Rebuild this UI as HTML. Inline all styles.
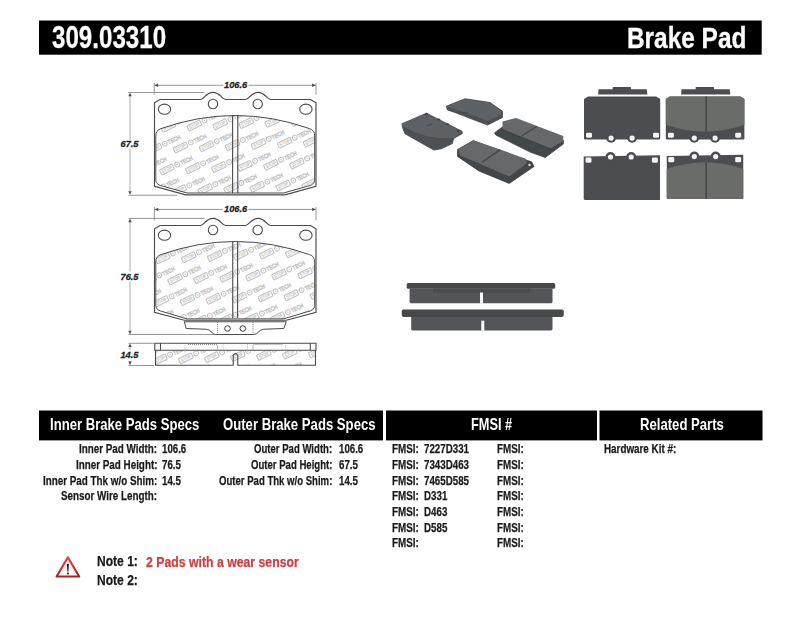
<!DOCTYPE html>
<html><head><meta charset="utf-8"><style>
html,body{margin:0;padding:0;background:#fff;width:800px;height:619px;overflow:hidden;position:relative}
.t{-webkit-text-stroke:0.25px currentColor;position:absolute;font-family:"Liberation Sans",sans-serif;font-weight:bold;white-space:pre;line-height:1;transform-origin:0 0}
.bar{position:absolute;background:#000}
svg{position:absolute;left:0;top:0}
</style></head><body>
<svg width="800" height="619" style="position:absolute;left:0;top:0"><rect x="39" y="20.5" width="722.7" height="34.2" fill="#000"/><rect x="39" y="410.5" width="344" height="29.9" fill="#000"/><rect x="386" y="410.5" width="211" height="29.9" fill="#000"/><rect x="599.5" y="410.5" width="163" height="29.9" fill="#000"/></svg>
<svg width="800" height="619" viewBox="0 0 800 619">
<defs><filter id="soft" x="-5%" y="-5%" width="110%" height="110%"><feGaussianBlur stdDeviation="0.35"/></filter>

<clipPath id="fr1"><path d="M155.8,136 Q155.8,130.2 161,128.6 Q235.25,102.4 309.5,128.6 Q314.7,130.2 314.7,136 L314.7,180.0 C314.7,183.5 311.5,185.5 307.5,186.2 L283.5,193.0 L187,193.0 L163,186.2 C159,185.5 155.8,183.5 155.8,180.0 Z"/></clipPath>
<clipPath id="fr2"><path d="M155.8,262 Q155.8,256.2 161,254.6 Q235.25,228.4 309.5,254.6 Q314.7,256.2 314.7,262 L314.7,305.5 C314.7,309.0 311.5,311.0 307.5,311.7 L283.5,318.9 L187,318.9 L163,311.7 C159,311.0 155.8,309.0 155.8,305.5 Z"/></clipPath>
<clipPath id="fr3"><rect x="155.5" y="350.2" width="160" height="15"/></clipPath>
</defs>
<g stroke="#8a8a8a" stroke-width="0.9" fill="none"><path d="M157.5,85.25 H223 M248.5,85.25 H312.5"/><path d="M154.25,83 V94.5 M316,83 V94.5"/><path d="M128.25,92.5 H204.5 M128.5,195.25 H177"/></g>
<path d="M130,96 V139.5 M130,148.5 V191" stroke="#d2d2d2" stroke-width="1.8"/>
<path d="M154.25,85.25 L158.15,83.55 L158.15,86.95 Z" fill="#4a4a4a"/><path d="M316,85.25 L312.1,83.55 L312.1,86.95 Z" fill="#4a4a4a"/>
<path d="M130,92.75 L128.3,96.35 L131.7,96.35 Z" fill="#4a4a4a"/><path d="M130,194.75 L128.3,191.15 L131.7,191.15 Z" fill="#4a4a4a"/>
<text x="0" y="0" transform="translate(224.0,87.7) scale(1.03,1)" font-family="Liberation Sans" font-weight="bold" font-style="italic" font-size="9.0" fill="#222" stroke="#222" stroke-width="0.25">106.6</text>
<text x="0" y="0" transform="translate(120.5,146.8) scale(1.03,1)" font-family="Liberation Sans" font-weight="bold" font-style="italic" font-size="9.0" fill="#222" stroke="#222" stroke-width="0.25">67.5</text>
<g clip-path="url(#fr1)"><g transform="translate(121.70,198.80) rotate(-26)"><rect x="0.6" y="-5.9" width="14" height="5.6" rx="0.8" fill="none" stroke="#c2c2c2" stroke-width="1.1"/><text x="7.6" y="-1.5" font-family="Liberation Sans" font-weight="bold" font-size="4.8" text-anchor="middle" fill="#c2c2c2" textLength="11" lengthAdjust="spacingAndGlyphs">STOP</text><circle cx="19" cy="-3.1" r="2.4" fill="none" stroke="#c2c2c2" stroke-width="1.05"/><circle cx="19" cy="-3.1" r="0.7" fill="#c2c2c2"/><text x="22.6" y="-0.7" font-family="Liberation Sans" font-size="5.8" fill="none" stroke="#c2c2c2" stroke-width="0.6" textLength="13" lengthAdjust="spacingAndGlyphs">TECH</text></g><g transform="translate(134.00,219.60) rotate(-26)"><rect x="0.6" y="-5.9" width="14" height="5.6" rx="0.8" fill="none" stroke="#c2c2c2" stroke-width="1.1"/><text x="7.6" y="-1.5" font-family="Liberation Sans" font-weight="bold" font-size="4.8" text-anchor="middle" fill="#c2c2c2" textLength="11" lengthAdjust="spacingAndGlyphs">STOP</text><circle cx="19" cy="-3.1" r="2.4" fill="none" stroke="#c2c2c2" stroke-width="1.05"/><circle cx="19" cy="-3.1" r="0.7" fill="#c2c2c2"/><text x="22.6" y="-0.7" font-family="Liberation Sans" font-size="5.8" fill="none" stroke="#c2c2c2" stroke-width="0.6" textLength="13" lengthAdjust="spacingAndGlyphs">TECH</text></g><g transform="translate(123.10,156.00) rotate(-26)"><rect x="0.6" y="-5.9" width="14" height="5.6" rx="0.8" fill="none" stroke="#c2c2c2" stroke-width="1.1"/><text x="7.6" y="-1.5" font-family="Liberation Sans" font-weight="bold" font-size="4.8" text-anchor="middle" fill="#c2c2c2" textLength="11" lengthAdjust="spacingAndGlyphs">STOP</text><circle cx="19" cy="-3.1" r="2.4" fill="none" stroke="#c2c2c2" stroke-width="1.05"/><circle cx="19" cy="-3.1" r="0.7" fill="#c2c2c2"/><text x="22.6" y="-0.7" font-family="Liberation Sans" font-size="5.8" fill="none" stroke="#c2c2c2" stroke-width="0.6" textLength="13" lengthAdjust="spacingAndGlyphs">TECH</text></g><g transform="translate(135.40,176.80) rotate(-26)"><rect x="0.6" y="-5.9" width="14" height="5.6" rx="0.8" fill="none" stroke="#c2c2c2" stroke-width="1.1"/><text x="7.6" y="-1.5" font-family="Liberation Sans" font-weight="bold" font-size="4.8" text-anchor="middle" fill="#c2c2c2" textLength="11" lengthAdjust="spacingAndGlyphs">STOP</text><circle cx="19" cy="-3.1" r="2.4" fill="none" stroke="#c2c2c2" stroke-width="1.05"/><circle cx="19" cy="-3.1" r="0.7" fill="#c2c2c2"/><text x="22.6" y="-0.7" font-family="Liberation Sans" font-size="5.8" fill="none" stroke="#c2c2c2" stroke-width="0.6" textLength="13" lengthAdjust="spacingAndGlyphs">TECH</text></g><g transform="translate(147.70,197.60) rotate(-26)"><rect x="0.6" y="-5.9" width="14" height="5.6" rx="0.8" fill="none" stroke="#c2c2c2" stroke-width="1.1"/><text x="7.6" y="-1.5" font-family="Liberation Sans" font-weight="bold" font-size="4.8" text-anchor="middle" fill="#c2c2c2" textLength="11" lengthAdjust="spacingAndGlyphs">STOP</text><circle cx="19" cy="-3.1" r="2.4" fill="none" stroke="#c2c2c2" stroke-width="1.05"/><circle cx="19" cy="-3.1" r="0.7" fill="#c2c2c2"/><text x="22.6" y="-0.7" font-family="Liberation Sans" font-size="5.8" fill="none" stroke="#c2c2c2" stroke-width="0.6" textLength="13" lengthAdjust="spacingAndGlyphs">TECH</text></g><g transform="translate(160.00,218.40) rotate(-26)"><rect x="0.6" y="-5.9" width="14" height="5.6" rx="0.8" fill="none" stroke="#c2c2c2" stroke-width="1.1"/><text x="7.6" y="-1.5" font-family="Liberation Sans" font-weight="bold" font-size="4.8" text-anchor="middle" fill="#c2c2c2" textLength="11" lengthAdjust="spacingAndGlyphs">STOP</text><circle cx="19" cy="-3.1" r="2.4" fill="none" stroke="#c2c2c2" stroke-width="1.05"/><circle cx="19" cy="-3.1" r="0.7" fill="#c2c2c2"/><text x="22.6" y="-0.7" font-family="Liberation Sans" font-size="5.8" fill="none" stroke="#c2c2c2" stroke-width="0.6" textLength="13" lengthAdjust="spacingAndGlyphs">TECH</text></g><g transform="translate(124.50,113.20) rotate(-26)"><rect x="0.6" y="-5.9" width="14" height="5.6" rx="0.8" fill="none" stroke="#c2c2c2" stroke-width="1.1"/><text x="7.6" y="-1.5" font-family="Liberation Sans" font-weight="bold" font-size="4.8" text-anchor="middle" fill="#c2c2c2" textLength="11" lengthAdjust="spacingAndGlyphs">STOP</text><circle cx="19" cy="-3.1" r="2.4" fill="none" stroke="#c2c2c2" stroke-width="1.05"/><circle cx="19" cy="-3.1" r="0.7" fill="#c2c2c2"/><text x="22.6" y="-0.7" font-family="Liberation Sans" font-size="5.8" fill="none" stroke="#c2c2c2" stroke-width="0.6" textLength="13" lengthAdjust="spacingAndGlyphs">TECH</text></g><g transform="translate(136.80,134.00) rotate(-26)"><rect x="0.6" y="-5.9" width="14" height="5.6" rx="0.8" fill="none" stroke="#c2c2c2" stroke-width="1.1"/><text x="7.6" y="-1.5" font-family="Liberation Sans" font-weight="bold" font-size="4.8" text-anchor="middle" fill="#c2c2c2" textLength="11" lengthAdjust="spacingAndGlyphs">STOP</text><circle cx="19" cy="-3.1" r="2.4" fill="none" stroke="#c2c2c2" stroke-width="1.05"/><circle cx="19" cy="-3.1" r="0.7" fill="#c2c2c2"/><text x="22.6" y="-0.7" font-family="Liberation Sans" font-size="5.8" fill="none" stroke="#c2c2c2" stroke-width="0.6" textLength="13" lengthAdjust="spacingAndGlyphs">TECH</text></g><g transform="translate(149.10,154.80) rotate(-26)"><rect x="0.6" y="-5.9" width="14" height="5.6" rx="0.8" fill="none" stroke="#c2c2c2" stroke-width="1.1"/><text x="7.6" y="-1.5" font-family="Liberation Sans" font-weight="bold" font-size="4.8" text-anchor="middle" fill="#c2c2c2" textLength="11" lengthAdjust="spacingAndGlyphs">STOP</text><circle cx="19" cy="-3.1" r="2.4" fill="none" stroke="#c2c2c2" stroke-width="1.05"/><circle cx="19" cy="-3.1" r="0.7" fill="#c2c2c2"/><text x="22.6" y="-0.7" font-family="Liberation Sans" font-size="5.8" fill="none" stroke="#c2c2c2" stroke-width="0.6" textLength="13" lengthAdjust="spacingAndGlyphs">TECH</text></g><g transform="translate(161.40,175.60) rotate(-26)"><rect x="0.6" y="-5.9" width="14" height="5.6" rx="0.8" fill="none" stroke="#c2c2c2" stroke-width="1.1"/><text x="7.6" y="-1.5" font-family="Liberation Sans" font-weight="bold" font-size="4.8" text-anchor="middle" fill="#c2c2c2" textLength="11" lengthAdjust="spacingAndGlyphs">STOP</text><circle cx="19" cy="-3.1" r="2.4" fill="none" stroke="#c2c2c2" stroke-width="1.05"/><circle cx="19" cy="-3.1" r="0.7" fill="#c2c2c2"/><text x="22.6" y="-0.7" font-family="Liberation Sans" font-size="5.8" fill="none" stroke="#c2c2c2" stroke-width="0.6" textLength="13" lengthAdjust="spacingAndGlyphs">TECH</text></g><g transform="translate(173.70,196.40) rotate(-26)"><rect x="0.6" y="-5.9" width="14" height="5.6" rx="0.8" fill="none" stroke="#c2c2c2" stroke-width="1.1"/><text x="7.6" y="-1.5" font-family="Liberation Sans" font-weight="bold" font-size="4.8" text-anchor="middle" fill="#c2c2c2" textLength="11" lengthAdjust="spacingAndGlyphs">STOP</text><circle cx="19" cy="-3.1" r="2.4" fill="none" stroke="#c2c2c2" stroke-width="1.05"/><circle cx="19" cy="-3.1" r="0.7" fill="#c2c2c2"/><text x="22.6" y="-0.7" font-family="Liberation Sans" font-size="5.8" fill="none" stroke="#c2c2c2" stroke-width="0.6" textLength="13" lengthAdjust="spacingAndGlyphs">TECH</text></g><g transform="translate(186.00,217.20) rotate(-26)"><rect x="0.6" y="-5.9" width="14" height="5.6" rx="0.8" fill="none" stroke="#c2c2c2" stroke-width="1.1"/><text x="7.6" y="-1.5" font-family="Liberation Sans" font-weight="bold" font-size="4.8" text-anchor="middle" fill="#c2c2c2" textLength="11" lengthAdjust="spacingAndGlyphs">STOP</text><circle cx="19" cy="-3.1" r="2.4" fill="none" stroke="#c2c2c2" stroke-width="1.05"/><circle cx="19" cy="-3.1" r="0.7" fill="#c2c2c2"/><text x="22.6" y="-0.7" font-family="Liberation Sans" font-size="5.8" fill="none" stroke="#c2c2c2" stroke-width="0.6" textLength="13" lengthAdjust="spacingAndGlyphs">TECH</text></g><g transform="translate(150.50,112.00) rotate(-26)"><rect x="0.6" y="-5.9" width="14" height="5.6" rx="0.8" fill="none" stroke="#c2c2c2" stroke-width="1.1"/><text x="7.6" y="-1.5" font-family="Liberation Sans" font-weight="bold" font-size="4.8" text-anchor="middle" fill="#c2c2c2" textLength="11" lengthAdjust="spacingAndGlyphs">STOP</text><circle cx="19" cy="-3.1" r="2.4" fill="none" stroke="#c2c2c2" stroke-width="1.05"/><circle cx="19" cy="-3.1" r="0.7" fill="#c2c2c2"/><text x="22.6" y="-0.7" font-family="Liberation Sans" font-size="5.8" fill="none" stroke="#c2c2c2" stroke-width="0.6" textLength="13" lengthAdjust="spacingAndGlyphs">TECH</text></g><g transform="translate(162.80,132.80) rotate(-26)"><rect x="0.6" y="-5.9" width="14" height="5.6" rx="0.8" fill="none" stroke="#c2c2c2" stroke-width="1.1"/><text x="7.6" y="-1.5" font-family="Liberation Sans" font-weight="bold" font-size="4.8" text-anchor="middle" fill="#c2c2c2" textLength="11" lengthAdjust="spacingAndGlyphs">STOP</text><circle cx="19" cy="-3.1" r="2.4" fill="none" stroke="#c2c2c2" stroke-width="1.05"/><circle cx="19" cy="-3.1" r="0.7" fill="#c2c2c2"/><text x="22.6" y="-0.7" font-family="Liberation Sans" font-size="5.8" fill="none" stroke="#c2c2c2" stroke-width="0.6" textLength="13" lengthAdjust="spacingAndGlyphs">TECH</text></g><g transform="translate(175.10,153.60) rotate(-26)"><rect x="0.6" y="-5.9" width="14" height="5.6" rx="0.8" fill="none" stroke="#c2c2c2" stroke-width="1.1"/><text x="7.6" y="-1.5" font-family="Liberation Sans" font-weight="bold" font-size="4.8" text-anchor="middle" fill="#c2c2c2" textLength="11" lengthAdjust="spacingAndGlyphs">STOP</text><circle cx="19" cy="-3.1" r="2.4" fill="none" stroke="#c2c2c2" stroke-width="1.05"/><circle cx="19" cy="-3.1" r="0.7" fill="#c2c2c2"/><text x="22.6" y="-0.7" font-family="Liberation Sans" font-size="5.8" fill="none" stroke="#c2c2c2" stroke-width="0.6" textLength="13" lengthAdjust="spacingAndGlyphs">TECH</text></g><g transform="translate(187.40,174.40) rotate(-26)"><rect x="0.6" y="-5.9" width="14" height="5.6" rx="0.8" fill="none" stroke="#c2c2c2" stroke-width="1.1"/><text x="7.6" y="-1.5" font-family="Liberation Sans" font-weight="bold" font-size="4.8" text-anchor="middle" fill="#c2c2c2" textLength="11" lengthAdjust="spacingAndGlyphs">STOP</text><circle cx="19" cy="-3.1" r="2.4" fill="none" stroke="#c2c2c2" stroke-width="1.05"/><circle cx="19" cy="-3.1" r="0.7" fill="#c2c2c2"/><text x="22.6" y="-0.7" font-family="Liberation Sans" font-size="5.8" fill="none" stroke="#c2c2c2" stroke-width="0.6" textLength="13" lengthAdjust="spacingAndGlyphs">TECH</text></g><g transform="translate(199.70,195.20) rotate(-26)"><rect x="0.6" y="-5.9" width="14" height="5.6" rx="0.8" fill="none" stroke="#c2c2c2" stroke-width="1.1"/><text x="7.6" y="-1.5" font-family="Liberation Sans" font-weight="bold" font-size="4.8" text-anchor="middle" fill="#c2c2c2" textLength="11" lengthAdjust="spacingAndGlyphs">STOP</text><circle cx="19" cy="-3.1" r="2.4" fill="none" stroke="#c2c2c2" stroke-width="1.05"/><circle cx="19" cy="-3.1" r="0.7" fill="#c2c2c2"/><text x="22.6" y="-0.7" font-family="Liberation Sans" font-size="5.8" fill="none" stroke="#c2c2c2" stroke-width="0.6" textLength="13" lengthAdjust="spacingAndGlyphs">TECH</text></g><g transform="translate(212.00,216.00) rotate(-26)"><rect x="0.6" y="-5.9" width="14" height="5.6" rx="0.8" fill="none" stroke="#c2c2c2" stroke-width="1.1"/><text x="7.6" y="-1.5" font-family="Liberation Sans" font-weight="bold" font-size="4.8" text-anchor="middle" fill="#c2c2c2" textLength="11" lengthAdjust="spacingAndGlyphs">STOP</text><circle cx="19" cy="-3.1" r="2.4" fill="none" stroke="#c2c2c2" stroke-width="1.05"/><circle cx="19" cy="-3.1" r="0.7" fill="#c2c2c2"/><text x="22.6" y="-0.7" font-family="Liberation Sans" font-size="5.8" fill="none" stroke="#c2c2c2" stroke-width="0.6" textLength="13" lengthAdjust="spacingAndGlyphs">TECH</text></g><g transform="translate(176.50,110.80) rotate(-26)"><rect x="0.6" y="-5.9" width="14" height="5.6" rx="0.8" fill="none" stroke="#c2c2c2" stroke-width="1.1"/><text x="7.6" y="-1.5" font-family="Liberation Sans" font-weight="bold" font-size="4.8" text-anchor="middle" fill="#c2c2c2" textLength="11" lengthAdjust="spacingAndGlyphs">STOP</text><circle cx="19" cy="-3.1" r="2.4" fill="none" stroke="#c2c2c2" stroke-width="1.05"/><circle cx="19" cy="-3.1" r="0.7" fill="#c2c2c2"/><text x="22.6" y="-0.7" font-family="Liberation Sans" font-size="5.8" fill="none" stroke="#c2c2c2" stroke-width="0.6" textLength="13" lengthAdjust="spacingAndGlyphs">TECH</text></g><g transform="translate(188.80,131.60) rotate(-26)"><rect x="0.6" y="-5.9" width="14" height="5.6" rx="0.8" fill="none" stroke="#c2c2c2" stroke-width="1.1"/><text x="7.6" y="-1.5" font-family="Liberation Sans" font-weight="bold" font-size="4.8" text-anchor="middle" fill="#c2c2c2" textLength="11" lengthAdjust="spacingAndGlyphs">STOP</text><circle cx="19" cy="-3.1" r="2.4" fill="none" stroke="#c2c2c2" stroke-width="1.05"/><circle cx="19" cy="-3.1" r="0.7" fill="#c2c2c2"/><text x="22.6" y="-0.7" font-family="Liberation Sans" font-size="5.8" fill="none" stroke="#c2c2c2" stroke-width="0.6" textLength="13" lengthAdjust="spacingAndGlyphs">TECH</text></g><g transform="translate(201.10,152.40) rotate(-26)"><rect x="0.6" y="-5.9" width="14" height="5.6" rx="0.8" fill="none" stroke="#c2c2c2" stroke-width="1.1"/><text x="7.6" y="-1.5" font-family="Liberation Sans" font-weight="bold" font-size="4.8" text-anchor="middle" fill="#c2c2c2" textLength="11" lengthAdjust="spacingAndGlyphs">STOP</text><circle cx="19" cy="-3.1" r="2.4" fill="none" stroke="#c2c2c2" stroke-width="1.05"/><circle cx="19" cy="-3.1" r="0.7" fill="#c2c2c2"/><text x="22.6" y="-0.7" font-family="Liberation Sans" font-size="5.8" fill="none" stroke="#c2c2c2" stroke-width="0.6" textLength="13" lengthAdjust="spacingAndGlyphs">TECH</text></g><g transform="translate(213.40,173.20) rotate(-26)"><rect x="0.6" y="-5.9" width="14" height="5.6" rx="0.8" fill="none" stroke="#c2c2c2" stroke-width="1.1"/><text x="7.6" y="-1.5" font-family="Liberation Sans" font-weight="bold" font-size="4.8" text-anchor="middle" fill="#c2c2c2" textLength="11" lengthAdjust="spacingAndGlyphs">STOP</text><circle cx="19" cy="-3.1" r="2.4" fill="none" stroke="#c2c2c2" stroke-width="1.05"/><circle cx="19" cy="-3.1" r="0.7" fill="#c2c2c2"/><text x="22.6" y="-0.7" font-family="Liberation Sans" font-size="5.8" fill="none" stroke="#c2c2c2" stroke-width="0.6" textLength="13" lengthAdjust="spacingAndGlyphs">TECH</text></g><g transform="translate(225.70,194.00) rotate(-26)"><rect x="0.6" y="-5.9" width="14" height="5.6" rx="0.8" fill="none" stroke="#c2c2c2" stroke-width="1.1"/><text x="7.6" y="-1.5" font-family="Liberation Sans" font-weight="bold" font-size="4.8" text-anchor="middle" fill="#c2c2c2" textLength="11" lengthAdjust="spacingAndGlyphs">STOP</text><circle cx="19" cy="-3.1" r="2.4" fill="none" stroke="#c2c2c2" stroke-width="1.05"/><circle cx="19" cy="-3.1" r="0.7" fill="#c2c2c2"/><text x="22.6" y="-0.7" font-family="Liberation Sans" font-size="5.8" fill="none" stroke="#c2c2c2" stroke-width="0.6" textLength="13" lengthAdjust="spacingAndGlyphs">TECH</text></g><g transform="translate(238.00,214.80) rotate(-26)"><rect x="0.6" y="-5.9" width="14" height="5.6" rx="0.8" fill="none" stroke="#c2c2c2" stroke-width="1.1"/><text x="7.6" y="-1.5" font-family="Liberation Sans" font-weight="bold" font-size="4.8" text-anchor="middle" fill="#c2c2c2" textLength="11" lengthAdjust="spacingAndGlyphs">STOP</text><circle cx="19" cy="-3.1" r="2.4" fill="none" stroke="#c2c2c2" stroke-width="1.05"/><circle cx="19" cy="-3.1" r="0.7" fill="#c2c2c2"/><text x="22.6" y="-0.7" font-family="Liberation Sans" font-size="5.8" fill="none" stroke="#c2c2c2" stroke-width="0.6" textLength="13" lengthAdjust="spacingAndGlyphs">TECH</text></g><g transform="translate(202.50,109.60) rotate(-26)"><rect x="0.6" y="-5.9" width="14" height="5.6" rx="0.8" fill="none" stroke="#c2c2c2" stroke-width="1.1"/><text x="7.6" y="-1.5" font-family="Liberation Sans" font-weight="bold" font-size="4.8" text-anchor="middle" fill="#c2c2c2" textLength="11" lengthAdjust="spacingAndGlyphs">STOP</text><circle cx="19" cy="-3.1" r="2.4" fill="none" stroke="#c2c2c2" stroke-width="1.05"/><circle cx="19" cy="-3.1" r="0.7" fill="#c2c2c2"/><text x="22.6" y="-0.7" font-family="Liberation Sans" font-size="5.8" fill="none" stroke="#c2c2c2" stroke-width="0.6" textLength="13" lengthAdjust="spacingAndGlyphs">TECH</text></g><g transform="translate(214.80,130.40) rotate(-26)"><rect x="0.6" y="-5.9" width="14" height="5.6" rx="0.8" fill="none" stroke="#c2c2c2" stroke-width="1.1"/><text x="7.6" y="-1.5" font-family="Liberation Sans" font-weight="bold" font-size="4.8" text-anchor="middle" fill="#c2c2c2" textLength="11" lengthAdjust="spacingAndGlyphs">STOP</text><circle cx="19" cy="-3.1" r="2.4" fill="none" stroke="#c2c2c2" stroke-width="1.05"/><circle cx="19" cy="-3.1" r="0.7" fill="#c2c2c2"/><text x="22.6" y="-0.7" font-family="Liberation Sans" font-size="5.8" fill="none" stroke="#c2c2c2" stroke-width="0.6" textLength="13" lengthAdjust="spacingAndGlyphs">TECH</text></g><g transform="translate(227.10,151.20) rotate(-26)"><rect x="0.6" y="-5.9" width="14" height="5.6" rx="0.8" fill="none" stroke="#c2c2c2" stroke-width="1.1"/><text x="7.6" y="-1.5" font-family="Liberation Sans" font-weight="bold" font-size="4.8" text-anchor="middle" fill="#c2c2c2" textLength="11" lengthAdjust="spacingAndGlyphs">STOP</text><circle cx="19" cy="-3.1" r="2.4" fill="none" stroke="#c2c2c2" stroke-width="1.05"/><circle cx="19" cy="-3.1" r="0.7" fill="#c2c2c2"/><text x="22.6" y="-0.7" font-family="Liberation Sans" font-size="5.8" fill="none" stroke="#c2c2c2" stroke-width="0.6" textLength="13" lengthAdjust="spacingAndGlyphs">TECH</text></g><g transform="translate(239.40,172.00) rotate(-26)"><rect x="0.6" y="-5.9" width="14" height="5.6" rx="0.8" fill="none" stroke="#c2c2c2" stroke-width="1.1"/><text x="7.6" y="-1.5" font-family="Liberation Sans" font-weight="bold" font-size="4.8" text-anchor="middle" fill="#c2c2c2" textLength="11" lengthAdjust="spacingAndGlyphs">STOP</text><circle cx="19" cy="-3.1" r="2.4" fill="none" stroke="#c2c2c2" stroke-width="1.05"/><circle cx="19" cy="-3.1" r="0.7" fill="#c2c2c2"/><text x="22.6" y="-0.7" font-family="Liberation Sans" font-size="5.8" fill="none" stroke="#c2c2c2" stroke-width="0.6" textLength="13" lengthAdjust="spacingAndGlyphs">TECH</text></g><g transform="translate(251.70,192.80) rotate(-26)"><rect x="0.6" y="-5.9" width="14" height="5.6" rx="0.8" fill="none" stroke="#c2c2c2" stroke-width="1.1"/><text x="7.6" y="-1.5" font-family="Liberation Sans" font-weight="bold" font-size="4.8" text-anchor="middle" fill="#c2c2c2" textLength="11" lengthAdjust="spacingAndGlyphs">STOP</text><circle cx="19" cy="-3.1" r="2.4" fill="none" stroke="#c2c2c2" stroke-width="1.05"/><circle cx="19" cy="-3.1" r="0.7" fill="#c2c2c2"/><text x="22.6" y="-0.7" font-family="Liberation Sans" font-size="5.8" fill="none" stroke="#c2c2c2" stroke-width="0.6" textLength="13" lengthAdjust="spacingAndGlyphs">TECH</text></g><g transform="translate(264.00,213.60) rotate(-26)"><rect x="0.6" y="-5.9" width="14" height="5.6" rx="0.8" fill="none" stroke="#c2c2c2" stroke-width="1.1"/><text x="7.6" y="-1.5" font-family="Liberation Sans" font-weight="bold" font-size="4.8" text-anchor="middle" fill="#c2c2c2" textLength="11" lengthAdjust="spacingAndGlyphs">STOP</text><circle cx="19" cy="-3.1" r="2.4" fill="none" stroke="#c2c2c2" stroke-width="1.05"/><circle cx="19" cy="-3.1" r="0.7" fill="#c2c2c2"/><text x="22.6" y="-0.7" font-family="Liberation Sans" font-size="5.8" fill="none" stroke="#c2c2c2" stroke-width="0.6" textLength="13" lengthAdjust="spacingAndGlyphs">TECH</text></g><g transform="translate(228.50,108.40) rotate(-26)"><rect x="0.6" y="-5.9" width="14" height="5.6" rx="0.8" fill="none" stroke="#c2c2c2" stroke-width="1.1"/><text x="7.6" y="-1.5" font-family="Liberation Sans" font-weight="bold" font-size="4.8" text-anchor="middle" fill="#c2c2c2" textLength="11" lengthAdjust="spacingAndGlyphs">STOP</text><circle cx="19" cy="-3.1" r="2.4" fill="none" stroke="#c2c2c2" stroke-width="1.05"/><circle cx="19" cy="-3.1" r="0.7" fill="#c2c2c2"/><text x="22.6" y="-0.7" font-family="Liberation Sans" font-size="5.8" fill="none" stroke="#c2c2c2" stroke-width="0.6" textLength="13" lengthAdjust="spacingAndGlyphs">TECH</text></g><g transform="translate(240.80,129.20) rotate(-26)"><rect x="0.6" y="-5.9" width="14" height="5.6" rx="0.8" fill="none" stroke="#c2c2c2" stroke-width="1.1"/><text x="7.6" y="-1.5" font-family="Liberation Sans" font-weight="bold" font-size="4.8" text-anchor="middle" fill="#c2c2c2" textLength="11" lengthAdjust="spacingAndGlyphs">STOP</text><circle cx="19" cy="-3.1" r="2.4" fill="none" stroke="#c2c2c2" stroke-width="1.05"/><circle cx="19" cy="-3.1" r="0.7" fill="#c2c2c2"/><text x="22.6" y="-0.7" font-family="Liberation Sans" font-size="5.8" fill="none" stroke="#c2c2c2" stroke-width="0.6" textLength="13" lengthAdjust="spacingAndGlyphs">TECH</text></g><g transform="translate(253.10,150.00) rotate(-26)"><rect x="0.6" y="-5.9" width="14" height="5.6" rx="0.8" fill="none" stroke="#c2c2c2" stroke-width="1.1"/><text x="7.6" y="-1.5" font-family="Liberation Sans" font-weight="bold" font-size="4.8" text-anchor="middle" fill="#c2c2c2" textLength="11" lengthAdjust="spacingAndGlyphs">STOP</text><circle cx="19" cy="-3.1" r="2.4" fill="none" stroke="#c2c2c2" stroke-width="1.05"/><circle cx="19" cy="-3.1" r="0.7" fill="#c2c2c2"/><text x="22.6" y="-0.7" font-family="Liberation Sans" font-size="5.8" fill="none" stroke="#c2c2c2" stroke-width="0.6" textLength="13" lengthAdjust="spacingAndGlyphs">TECH</text></g><g transform="translate(265.40,170.80) rotate(-26)"><rect x="0.6" y="-5.9" width="14" height="5.6" rx="0.8" fill="none" stroke="#c2c2c2" stroke-width="1.1"/><text x="7.6" y="-1.5" font-family="Liberation Sans" font-weight="bold" font-size="4.8" text-anchor="middle" fill="#c2c2c2" textLength="11" lengthAdjust="spacingAndGlyphs">STOP</text><circle cx="19" cy="-3.1" r="2.4" fill="none" stroke="#c2c2c2" stroke-width="1.05"/><circle cx="19" cy="-3.1" r="0.7" fill="#c2c2c2"/><text x="22.6" y="-0.7" font-family="Liberation Sans" font-size="5.8" fill="none" stroke="#c2c2c2" stroke-width="0.6" textLength="13" lengthAdjust="spacingAndGlyphs">TECH</text></g><g transform="translate(277.70,191.60) rotate(-26)"><rect x="0.6" y="-5.9" width="14" height="5.6" rx="0.8" fill="none" stroke="#c2c2c2" stroke-width="1.1"/><text x="7.6" y="-1.5" font-family="Liberation Sans" font-weight="bold" font-size="4.8" text-anchor="middle" fill="#c2c2c2" textLength="11" lengthAdjust="spacingAndGlyphs">STOP</text><circle cx="19" cy="-3.1" r="2.4" fill="none" stroke="#c2c2c2" stroke-width="1.05"/><circle cx="19" cy="-3.1" r="0.7" fill="#c2c2c2"/><text x="22.6" y="-0.7" font-family="Liberation Sans" font-size="5.8" fill="none" stroke="#c2c2c2" stroke-width="0.6" textLength="13" lengthAdjust="spacingAndGlyphs">TECH</text></g><g transform="translate(290.00,212.40) rotate(-26)"><rect x="0.6" y="-5.9" width="14" height="5.6" rx="0.8" fill="none" stroke="#c2c2c2" stroke-width="1.1"/><text x="7.6" y="-1.5" font-family="Liberation Sans" font-weight="bold" font-size="4.8" text-anchor="middle" fill="#c2c2c2" textLength="11" lengthAdjust="spacingAndGlyphs">STOP</text><circle cx="19" cy="-3.1" r="2.4" fill="none" stroke="#c2c2c2" stroke-width="1.05"/><circle cx="19" cy="-3.1" r="0.7" fill="#c2c2c2"/><text x="22.6" y="-0.7" font-family="Liberation Sans" font-size="5.8" fill="none" stroke="#c2c2c2" stroke-width="0.6" textLength="13" lengthAdjust="spacingAndGlyphs">TECH</text></g><g transform="translate(254.50,107.20) rotate(-26)"><rect x="0.6" y="-5.9" width="14" height="5.6" rx="0.8" fill="none" stroke="#c2c2c2" stroke-width="1.1"/><text x="7.6" y="-1.5" font-family="Liberation Sans" font-weight="bold" font-size="4.8" text-anchor="middle" fill="#c2c2c2" textLength="11" lengthAdjust="spacingAndGlyphs">STOP</text><circle cx="19" cy="-3.1" r="2.4" fill="none" stroke="#c2c2c2" stroke-width="1.05"/><circle cx="19" cy="-3.1" r="0.7" fill="#c2c2c2"/><text x="22.6" y="-0.7" font-family="Liberation Sans" font-size="5.8" fill="none" stroke="#c2c2c2" stroke-width="0.6" textLength="13" lengthAdjust="spacingAndGlyphs">TECH</text></g><g transform="translate(266.80,128.00) rotate(-26)"><rect x="0.6" y="-5.9" width="14" height="5.6" rx="0.8" fill="none" stroke="#c2c2c2" stroke-width="1.1"/><text x="7.6" y="-1.5" font-family="Liberation Sans" font-weight="bold" font-size="4.8" text-anchor="middle" fill="#c2c2c2" textLength="11" lengthAdjust="spacingAndGlyphs">STOP</text><circle cx="19" cy="-3.1" r="2.4" fill="none" stroke="#c2c2c2" stroke-width="1.05"/><circle cx="19" cy="-3.1" r="0.7" fill="#c2c2c2"/><text x="22.6" y="-0.7" font-family="Liberation Sans" font-size="5.8" fill="none" stroke="#c2c2c2" stroke-width="0.6" textLength="13" lengthAdjust="spacingAndGlyphs">TECH</text></g><g transform="translate(279.10,148.80) rotate(-26)"><rect x="0.6" y="-5.9" width="14" height="5.6" rx="0.8" fill="none" stroke="#c2c2c2" stroke-width="1.1"/><text x="7.6" y="-1.5" font-family="Liberation Sans" font-weight="bold" font-size="4.8" text-anchor="middle" fill="#c2c2c2" textLength="11" lengthAdjust="spacingAndGlyphs">STOP</text><circle cx="19" cy="-3.1" r="2.4" fill="none" stroke="#c2c2c2" stroke-width="1.05"/><circle cx="19" cy="-3.1" r="0.7" fill="#c2c2c2"/><text x="22.6" y="-0.7" font-family="Liberation Sans" font-size="5.8" fill="none" stroke="#c2c2c2" stroke-width="0.6" textLength="13" lengthAdjust="spacingAndGlyphs">TECH</text></g><g transform="translate(291.40,169.60) rotate(-26)"><rect x="0.6" y="-5.9" width="14" height="5.6" rx="0.8" fill="none" stroke="#c2c2c2" stroke-width="1.1"/><text x="7.6" y="-1.5" font-family="Liberation Sans" font-weight="bold" font-size="4.8" text-anchor="middle" fill="#c2c2c2" textLength="11" lengthAdjust="spacingAndGlyphs">STOP</text><circle cx="19" cy="-3.1" r="2.4" fill="none" stroke="#c2c2c2" stroke-width="1.05"/><circle cx="19" cy="-3.1" r="0.7" fill="#c2c2c2"/><text x="22.6" y="-0.7" font-family="Liberation Sans" font-size="5.8" fill="none" stroke="#c2c2c2" stroke-width="0.6" textLength="13" lengthAdjust="spacingAndGlyphs">TECH</text></g><g transform="translate(303.70,190.40) rotate(-26)"><rect x="0.6" y="-5.9" width="14" height="5.6" rx="0.8" fill="none" stroke="#c2c2c2" stroke-width="1.1"/><text x="7.6" y="-1.5" font-family="Liberation Sans" font-weight="bold" font-size="4.8" text-anchor="middle" fill="#c2c2c2" textLength="11" lengthAdjust="spacingAndGlyphs">STOP</text><circle cx="19" cy="-3.1" r="2.4" fill="none" stroke="#c2c2c2" stroke-width="1.05"/><circle cx="19" cy="-3.1" r="0.7" fill="#c2c2c2"/><text x="22.6" y="-0.7" font-family="Liberation Sans" font-size="5.8" fill="none" stroke="#c2c2c2" stroke-width="0.6" textLength="13" lengthAdjust="spacingAndGlyphs">TECH</text></g><g transform="translate(316.00,211.20) rotate(-26)"><rect x="0.6" y="-5.9" width="14" height="5.6" rx="0.8" fill="none" stroke="#c2c2c2" stroke-width="1.1"/><text x="7.6" y="-1.5" font-family="Liberation Sans" font-weight="bold" font-size="4.8" text-anchor="middle" fill="#c2c2c2" textLength="11" lengthAdjust="spacingAndGlyphs">STOP</text><circle cx="19" cy="-3.1" r="2.4" fill="none" stroke="#c2c2c2" stroke-width="1.05"/><circle cx="19" cy="-3.1" r="0.7" fill="#c2c2c2"/><text x="22.6" y="-0.7" font-family="Liberation Sans" font-size="5.8" fill="none" stroke="#c2c2c2" stroke-width="0.6" textLength="13" lengthAdjust="spacingAndGlyphs">TECH</text></g><g transform="translate(280.50,106.00) rotate(-26)"><rect x="0.6" y="-5.9" width="14" height="5.6" rx="0.8" fill="none" stroke="#c2c2c2" stroke-width="1.1"/><text x="7.6" y="-1.5" font-family="Liberation Sans" font-weight="bold" font-size="4.8" text-anchor="middle" fill="#c2c2c2" textLength="11" lengthAdjust="spacingAndGlyphs">STOP</text><circle cx="19" cy="-3.1" r="2.4" fill="none" stroke="#c2c2c2" stroke-width="1.05"/><circle cx="19" cy="-3.1" r="0.7" fill="#c2c2c2"/><text x="22.6" y="-0.7" font-family="Liberation Sans" font-size="5.8" fill="none" stroke="#c2c2c2" stroke-width="0.6" textLength="13" lengthAdjust="spacingAndGlyphs">TECH</text></g><g transform="translate(292.80,126.80) rotate(-26)"><rect x="0.6" y="-5.9" width="14" height="5.6" rx="0.8" fill="none" stroke="#c2c2c2" stroke-width="1.1"/><text x="7.6" y="-1.5" font-family="Liberation Sans" font-weight="bold" font-size="4.8" text-anchor="middle" fill="#c2c2c2" textLength="11" lengthAdjust="spacingAndGlyphs">STOP</text><circle cx="19" cy="-3.1" r="2.4" fill="none" stroke="#c2c2c2" stroke-width="1.05"/><circle cx="19" cy="-3.1" r="0.7" fill="#c2c2c2"/><text x="22.6" y="-0.7" font-family="Liberation Sans" font-size="5.8" fill="none" stroke="#c2c2c2" stroke-width="0.6" textLength="13" lengthAdjust="spacingAndGlyphs">TECH</text></g><g transform="translate(305.10,147.60) rotate(-26)"><rect x="0.6" y="-5.9" width="14" height="5.6" rx="0.8" fill="none" stroke="#c2c2c2" stroke-width="1.1"/><text x="7.6" y="-1.5" font-family="Liberation Sans" font-weight="bold" font-size="4.8" text-anchor="middle" fill="#c2c2c2" textLength="11" lengthAdjust="spacingAndGlyphs">STOP</text><circle cx="19" cy="-3.1" r="2.4" fill="none" stroke="#c2c2c2" stroke-width="1.05"/><circle cx="19" cy="-3.1" r="0.7" fill="#c2c2c2"/><text x="22.6" y="-0.7" font-family="Liberation Sans" font-size="5.8" fill="none" stroke="#c2c2c2" stroke-width="0.6" textLength="13" lengthAdjust="spacingAndGlyphs">TECH</text></g><g transform="translate(317.40,168.40) rotate(-26)"><rect x="0.6" y="-5.9" width="14" height="5.6" rx="0.8" fill="none" stroke="#c2c2c2" stroke-width="1.1"/><text x="7.6" y="-1.5" font-family="Liberation Sans" font-weight="bold" font-size="4.8" text-anchor="middle" fill="#c2c2c2" textLength="11" lengthAdjust="spacingAndGlyphs">STOP</text><circle cx="19" cy="-3.1" r="2.4" fill="none" stroke="#c2c2c2" stroke-width="1.05"/><circle cx="19" cy="-3.1" r="0.7" fill="#c2c2c2"/><text x="22.6" y="-0.7" font-family="Liberation Sans" font-size="5.8" fill="none" stroke="#c2c2c2" stroke-width="0.6" textLength="13" lengthAdjust="spacingAndGlyphs">TECH</text></g><g transform="translate(318.80,125.60) rotate(-26)"><rect x="0.6" y="-5.9" width="14" height="5.6" rx="0.8" fill="none" stroke="#c2c2c2" stroke-width="1.1"/><text x="7.6" y="-1.5" font-family="Liberation Sans" font-weight="bold" font-size="4.8" text-anchor="middle" fill="#c2c2c2" textLength="11" lengthAdjust="spacingAndGlyphs">STOP</text><circle cx="19" cy="-3.1" r="2.4" fill="none" stroke="#c2c2c2" stroke-width="1.05"/><circle cx="19" cy="-3.1" r="0.7" fill="#c2c2c2"/><text x="22.6" y="-0.7" font-family="Liberation Sans" font-size="5.8" fill="none" stroke="#c2c2c2" stroke-width="0.6" textLength="13" lengthAdjust="spacingAndGlyphs">TECH</text></g></g>
<path d="M154.5,102.8 L160,99.5 L200.5,99.5 C204.5,99.5 205.5,92.3 213,92.3 C220.5,92.3 221.5,99.5 225.5,99.5 L245.5,99.5 C249.5,99.5 250.5,92.3 258,92.3 C265.5,92.3 266.5,99.5 270.5,99.5 L310.5,99.5 L316,102.8 L316,186.3 L284.9,194.9 L185.6,194.9 L154.5,186.3 Z" fill="none" stroke="#4a4a4a" stroke-width="1.15"/>
<path d="M155.8,136 Q155.8,130.2 161,128.6 Q235.25,102.4 309.5,128.6 Q314.7,130.2 314.7,136 L314.7,180.0 C314.7,183.5 311.5,185.5 307.5,186.2 L283.5,193.0 L187,193.0 L163,186.2 C159,185.5 155.8,183.5 155.8,180.0 Z" fill="none" stroke="#4a4a4a" stroke-width="1.0"/>
<ellipse cx="164.5" cy="109.2" rx="6.2" ry="5.1" fill="none" stroke="#4a4a4a" stroke-width="1.1"/><circle cx="213" cy="104" r="4.7" fill="none" stroke="#4a4a4a" stroke-width="1.1"/><circle cx="257.7" cy="104" r="4.7" fill="none" stroke="#4a4a4a" stroke-width="1.1"/><ellipse cx="305.9" cy="109.2" rx="6.2" ry="5.1" fill="none" stroke="#4a4a4a" stroke-width="1.1"/>
<path d="M232.6,115.6 V193.2 M237.8,115.6 V193.2" stroke="#4a4a4a" stroke-width="1.1"/>
<g stroke="#8a8a8a" stroke-width="0.9" fill="none"><path d="M157.5,209.4 H223 M248.5,209.4 H312.5"/><path d="M154.4,207 V220.2 M316,207 V220.2"/><path d="M128.5,218.4 H204.5 M128.5,334.5 H216"/></g>
<path d="M130,222 V271.5 M130,281.5 V331" stroke="#d2d2d2" stroke-width="1.8"/>
<path d="M154.4,209.4 L158.3,207.70000000000002 L158.3,211.1 Z" fill="#4a4a4a"/><path d="M316,209.4 L312.1,207.70000000000002 L312.1,211.1 Z" fill="#4a4a4a"/>
<path d="M130,218.6 L128.3,222.2 L131.7,222.2 Z" fill="#4a4a4a"/><path d="M130,334.3 L128.3,330.7 L131.7,330.7 Z" fill="#4a4a4a"/>
<text x="0" y="0" transform="translate(224.0,211.8) scale(1.03,1)" font-family="Liberation Sans" font-weight="bold" font-style="italic" font-size="9.0" fill="#222" stroke="#222" stroke-width="0.25">106.6</text>
<text x="0" y="0" transform="translate(120.5,279.8) scale(1.03,1)" font-family="Liberation Sans" font-weight="bold" font-style="italic" font-size="9.0" fill="#222" stroke="#222" stroke-width="0.25">76.5</text>
<g clip-path="url(#fr2)"><g transform="translate(116.20,330.50) rotate(-26)"><rect x="0.6" y="-5.9" width="14" height="5.6" rx="0.8" fill="none" stroke="#c2c2c2" stroke-width="1.1"/><text x="7.6" y="-1.5" font-family="Liberation Sans" font-weight="bold" font-size="4.8" text-anchor="middle" fill="#c2c2c2" textLength="11" lengthAdjust="spacingAndGlyphs">STOP</text><circle cx="19" cy="-3.1" r="2.4" fill="none" stroke="#c2c2c2" stroke-width="1.05"/><circle cx="19" cy="-3.1" r="0.7" fill="#c2c2c2"/><text x="22.6" y="-0.7" font-family="Liberation Sans" font-size="5.8" fill="none" stroke="#c2c2c2" stroke-width="0.6" textLength="13" lengthAdjust="spacingAndGlyphs">TECH</text></g><g transform="translate(117.60,287.70) rotate(-26)"><rect x="0.6" y="-5.9" width="14" height="5.6" rx="0.8" fill="none" stroke="#c2c2c2" stroke-width="1.1"/><text x="7.6" y="-1.5" font-family="Liberation Sans" font-weight="bold" font-size="4.8" text-anchor="middle" fill="#c2c2c2" textLength="11" lengthAdjust="spacingAndGlyphs">STOP</text><circle cx="19" cy="-3.1" r="2.4" fill="none" stroke="#c2c2c2" stroke-width="1.05"/><circle cx="19" cy="-3.1" r="0.7" fill="#c2c2c2"/><text x="22.6" y="-0.7" font-family="Liberation Sans" font-size="5.8" fill="none" stroke="#c2c2c2" stroke-width="0.6" textLength="13" lengthAdjust="spacingAndGlyphs">TECH</text></g><g transform="translate(129.90,308.50) rotate(-26)"><rect x="0.6" y="-5.9" width="14" height="5.6" rx="0.8" fill="none" stroke="#c2c2c2" stroke-width="1.1"/><text x="7.6" y="-1.5" font-family="Liberation Sans" font-weight="bold" font-size="4.8" text-anchor="middle" fill="#c2c2c2" textLength="11" lengthAdjust="spacingAndGlyphs">STOP</text><circle cx="19" cy="-3.1" r="2.4" fill="none" stroke="#c2c2c2" stroke-width="1.05"/><circle cx="19" cy="-3.1" r="0.7" fill="#c2c2c2"/><text x="22.6" y="-0.7" font-family="Liberation Sans" font-size="5.8" fill="none" stroke="#c2c2c2" stroke-width="0.6" textLength="13" lengthAdjust="spacingAndGlyphs">TECH</text></g><g transform="translate(142.20,329.30) rotate(-26)"><rect x="0.6" y="-5.9" width="14" height="5.6" rx="0.8" fill="none" stroke="#c2c2c2" stroke-width="1.1"/><text x="7.6" y="-1.5" font-family="Liberation Sans" font-weight="bold" font-size="4.8" text-anchor="middle" fill="#c2c2c2" textLength="11" lengthAdjust="spacingAndGlyphs">STOP</text><circle cx="19" cy="-3.1" r="2.4" fill="none" stroke="#c2c2c2" stroke-width="1.05"/><circle cx="19" cy="-3.1" r="0.7" fill="#c2c2c2"/><text x="22.6" y="-0.7" font-family="Liberation Sans" font-size="5.8" fill="none" stroke="#c2c2c2" stroke-width="0.6" textLength="13" lengthAdjust="spacingAndGlyphs">TECH</text></g><g transform="translate(119.00,244.90) rotate(-26)"><rect x="0.6" y="-5.9" width="14" height="5.6" rx="0.8" fill="none" stroke="#c2c2c2" stroke-width="1.1"/><text x="7.6" y="-1.5" font-family="Liberation Sans" font-weight="bold" font-size="4.8" text-anchor="middle" fill="#c2c2c2" textLength="11" lengthAdjust="spacingAndGlyphs">STOP</text><circle cx="19" cy="-3.1" r="2.4" fill="none" stroke="#c2c2c2" stroke-width="1.05"/><circle cx="19" cy="-3.1" r="0.7" fill="#c2c2c2"/><text x="22.6" y="-0.7" font-family="Liberation Sans" font-size="5.8" fill="none" stroke="#c2c2c2" stroke-width="0.6" textLength="13" lengthAdjust="spacingAndGlyphs">TECH</text></g><g transform="translate(131.30,265.70) rotate(-26)"><rect x="0.6" y="-5.9" width="14" height="5.6" rx="0.8" fill="none" stroke="#c2c2c2" stroke-width="1.1"/><text x="7.6" y="-1.5" font-family="Liberation Sans" font-weight="bold" font-size="4.8" text-anchor="middle" fill="#c2c2c2" textLength="11" lengthAdjust="spacingAndGlyphs">STOP</text><circle cx="19" cy="-3.1" r="2.4" fill="none" stroke="#c2c2c2" stroke-width="1.05"/><circle cx="19" cy="-3.1" r="0.7" fill="#c2c2c2"/><text x="22.6" y="-0.7" font-family="Liberation Sans" font-size="5.8" fill="none" stroke="#c2c2c2" stroke-width="0.6" textLength="13" lengthAdjust="spacingAndGlyphs">TECH</text></g><g transform="translate(143.60,286.50) rotate(-26)"><rect x="0.6" y="-5.9" width="14" height="5.6" rx="0.8" fill="none" stroke="#c2c2c2" stroke-width="1.1"/><text x="7.6" y="-1.5" font-family="Liberation Sans" font-weight="bold" font-size="4.8" text-anchor="middle" fill="#c2c2c2" textLength="11" lengthAdjust="spacingAndGlyphs">STOP</text><circle cx="19" cy="-3.1" r="2.4" fill="none" stroke="#c2c2c2" stroke-width="1.05"/><circle cx="19" cy="-3.1" r="0.7" fill="#c2c2c2"/><text x="22.6" y="-0.7" font-family="Liberation Sans" font-size="5.8" fill="none" stroke="#c2c2c2" stroke-width="0.6" textLength="13" lengthAdjust="spacingAndGlyphs">TECH</text></g><g transform="translate(155.90,307.30) rotate(-26)"><rect x="0.6" y="-5.9" width="14" height="5.6" rx="0.8" fill="none" stroke="#c2c2c2" stroke-width="1.1"/><text x="7.6" y="-1.5" font-family="Liberation Sans" font-weight="bold" font-size="4.8" text-anchor="middle" fill="#c2c2c2" textLength="11" lengthAdjust="spacingAndGlyphs">STOP</text><circle cx="19" cy="-3.1" r="2.4" fill="none" stroke="#c2c2c2" stroke-width="1.05"/><circle cx="19" cy="-3.1" r="0.7" fill="#c2c2c2"/><text x="22.6" y="-0.7" font-family="Liberation Sans" font-size="5.8" fill="none" stroke="#c2c2c2" stroke-width="0.6" textLength="13" lengthAdjust="spacingAndGlyphs">TECH</text></g><g transform="translate(168.20,328.10) rotate(-26)"><rect x="0.6" y="-5.9" width="14" height="5.6" rx="0.8" fill="none" stroke="#c2c2c2" stroke-width="1.1"/><text x="7.6" y="-1.5" font-family="Liberation Sans" font-weight="bold" font-size="4.8" text-anchor="middle" fill="#c2c2c2" textLength="11" lengthAdjust="spacingAndGlyphs">STOP</text><circle cx="19" cy="-3.1" r="2.4" fill="none" stroke="#c2c2c2" stroke-width="1.05"/><circle cx="19" cy="-3.1" r="0.7" fill="#c2c2c2"/><text x="22.6" y="-0.7" font-family="Liberation Sans" font-size="5.8" fill="none" stroke="#c2c2c2" stroke-width="0.6" textLength="13" lengthAdjust="spacingAndGlyphs">TECH</text></g><g transform="translate(145.00,243.70) rotate(-26)"><rect x="0.6" y="-5.9" width="14" height="5.6" rx="0.8" fill="none" stroke="#c2c2c2" stroke-width="1.1"/><text x="7.6" y="-1.5" font-family="Liberation Sans" font-weight="bold" font-size="4.8" text-anchor="middle" fill="#c2c2c2" textLength="11" lengthAdjust="spacingAndGlyphs">STOP</text><circle cx="19" cy="-3.1" r="2.4" fill="none" stroke="#c2c2c2" stroke-width="1.05"/><circle cx="19" cy="-3.1" r="0.7" fill="#c2c2c2"/><text x="22.6" y="-0.7" font-family="Liberation Sans" font-size="5.8" fill="none" stroke="#c2c2c2" stroke-width="0.6" textLength="13" lengthAdjust="spacingAndGlyphs">TECH</text></g><g transform="translate(157.30,264.50) rotate(-26)"><rect x="0.6" y="-5.9" width="14" height="5.6" rx="0.8" fill="none" stroke="#c2c2c2" stroke-width="1.1"/><text x="7.6" y="-1.5" font-family="Liberation Sans" font-weight="bold" font-size="4.8" text-anchor="middle" fill="#c2c2c2" textLength="11" lengthAdjust="spacingAndGlyphs">STOP</text><circle cx="19" cy="-3.1" r="2.4" fill="none" stroke="#c2c2c2" stroke-width="1.05"/><circle cx="19" cy="-3.1" r="0.7" fill="#c2c2c2"/><text x="22.6" y="-0.7" font-family="Liberation Sans" font-size="5.8" fill="none" stroke="#c2c2c2" stroke-width="0.6" textLength="13" lengthAdjust="spacingAndGlyphs">TECH</text></g><g transform="translate(169.60,285.30) rotate(-26)"><rect x="0.6" y="-5.9" width="14" height="5.6" rx="0.8" fill="none" stroke="#c2c2c2" stroke-width="1.1"/><text x="7.6" y="-1.5" font-family="Liberation Sans" font-weight="bold" font-size="4.8" text-anchor="middle" fill="#c2c2c2" textLength="11" lengthAdjust="spacingAndGlyphs">STOP</text><circle cx="19" cy="-3.1" r="2.4" fill="none" stroke="#c2c2c2" stroke-width="1.05"/><circle cx="19" cy="-3.1" r="0.7" fill="#c2c2c2"/><text x="22.6" y="-0.7" font-family="Liberation Sans" font-size="5.8" fill="none" stroke="#c2c2c2" stroke-width="0.6" textLength="13" lengthAdjust="spacingAndGlyphs">TECH</text></g><g transform="translate(181.90,306.10) rotate(-26)"><rect x="0.6" y="-5.9" width="14" height="5.6" rx="0.8" fill="none" stroke="#c2c2c2" stroke-width="1.1"/><text x="7.6" y="-1.5" font-family="Liberation Sans" font-weight="bold" font-size="4.8" text-anchor="middle" fill="#c2c2c2" textLength="11" lengthAdjust="spacingAndGlyphs">STOP</text><circle cx="19" cy="-3.1" r="2.4" fill="none" stroke="#c2c2c2" stroke-width="1.05"/><circle cx="19" cy="-3.1" r="0.7" fill="#c2c2c2"/><text x="22.6" y="-0.7" font-family="Liberation Sans" font-size="5.8" fill="none" stroke="#c2c2c2" stroke-width="0.6" textLength="13" lengthAdjust="spacingAndGlyphs">TECH</text></g><g transform="translate(194.20,326.90) rotate(-26)"><rect x="0.6" y="-5.9" width="14" height="5.6" rx="0.8" fill="none" stroke="#c2c2c2" stroke-width="1.1"/><text x="7.6" y="-1.5" font-family="Liberation Sans" font-weight="bold" font-size="4.8" text-anchor="middle" fill="#c2c2c2" textLength="11" lengthAdjust="spacingAndGlyphs">STOP</text><circle cx="19" cy="-3.1" r="2.4" fill="none" stroke="#c2c2c2" stroke-width="1.05"/><circle cx="19" cy="-3.1" r="0.7" fill="#c2c2c2"/><text x="22.6" y="-0.7" font-family="Liberation Sans" font-size="5.8" fill="none" stroke="#c2c2c2" stroke-width="0.6" textLength="13" lengthAdjust="spacingAndGlyphs">TECH</text></g><g transform="translate(171.00,242.50) rotate(-26)"><rect x="0.6" y="-5.9" width="14" height="5.6" rx="0.8" fill="none" stroke="#c2c2c2" stroke-width="1.1"/><text x="7.6" y="-1.5" font-family="Liberation Sans" font-weight="bold" font-size="4.8" text-anchor="middle" fill="#c2c2c2" textLength="11" lengthAdjust="spacingAndGlyphs">STOP</text><circle cx="19" cy="-3.1" r="2.4" fill="none" stroke="#c2c2c2" stroke-width="1.05"/><circle cx="19" cy="-3.1" r="0.7" fill="#c2c2c2"/><text x="22.6" y="-0.7" font-family="Liberation Sans" font-size="5.8" fill="none" stroke="#c2c2c2" stroke-width="0.6" textLength="13" lengthAdjust="spacingAndGlyphs">TECH</text></g><g transform="translate(183.30,263.30) rotate(-26)"><rect x="0.6" y="-5.9" width="14" height="5.6" rx="0.8" fill="none" stroke="#c2c2c2" stroke-width="1.1"/><text x="7.6" y="-1.5" font-family="Liberation Sans" font-weight="bold" font-size="4.8" text-anchor="middle" fill="#c2c2c2" textLength="11" lengthAdjust="spacingAndGlyphs">STOP</text><circle cx="19" cy="-3.1" r="2.4" fill="none" stroke="#c2c2c2" stroke-width="1.05"/><circle cx="19" cy="-3.1" r="0.7" fill="#c2c2c2"/><text x="22.6" y="-0.7" font-family="Liberation Sans" font-size="5.8" fill="none" stroke="#c2c2c2" stroke-width="0.6" textLength="13" lengthAdjust="spacingAndGlyphs">TECH</text></g><g transform="translate(195.60,284.10) rotate(-26)"><rect x="0.6" y="-5.9" width="14" height="5.6" rx="0.8" fill="none" stroke="#c2c2c2" stroke-width="1.1"/><text x="7.6" y="-1.5" font-family="Liberation Sans" font-weight="bold" font-size="4.8" text-anchor="middle" fill="#c2c2c2" textLength="11" lengthAdjust="spacingAndGlyphs">STOP</text><circle cx="19" cy="-3.1" r="2.4" fill="none" stroke="#c2c2c2" stroke-width="1.05"/><circle cx="19" cy="-3.1" r="0.7" fill="#c2c2c2"/><text x="22.6" y="-0.7" font-family="Liberation Sans" font-size="5.8" fill="none" stroke="#c2c2c2" stroke-width="0.6" textLength="13" lengthAdjust="spacingAndGlyphs">TECH</text></g><g transform="translate(207.90,304.90) rotate(-26)"><rect x="0.6" y="-5.9" width="14" height="5.6" rx="0.8" fill="none" stroke="#c2c2c2" stroke-width="1.1"/><text x="7.6" y="-1.5" font-family="Liberation Sans" font-weight="bold" font-size="4.8" text-anchor="middle" fill="#c2c2c2" textLength="11" lengthAdjust="spacingAndGlyphs">STOP</text><circle cx="19" cy="-3.1" r="2.4" fill="none" stroke="#c2c2c2" stroke-width="1.05"/><circle cx="19" cy="-3.1" r="0.7" fill="#c2c2c2"/><text x="22.6" y="-0.7" font-family="Liberation Sans" font-size="5.8" fill="none" stroke="#c2c2c2" stroke-width="0.6" textLength="13" lengthAdjust="spacingAndGlyphs">TECH</text></g><g transform="translate(220.20,325.70) rotate(-26)"><rect x="0.6" y="-5.9" width="14" height="5.6" rx="0.8" fill="none" stroke="#c2c2c2" stroke-width="1.1"/><text x="7.6" y="-1.5" font-family="Liberation Sans" font-weight="bold" font-size="4.8" text-anchor="middle" fill="#c2c2c2" textLength="11" lengthAdjust="spacingAndGlyphs">STOP</text><circle cx="19" cy="-3.1" r="2.4" fill="none" stroke="#c2c2c2" stroke-width="1.05"/><circle cx="19" cy="-3.1" r="0.7" fill="#c2c2c2"/><text x="22.6" y="-0.7" font-family="Liberation Sans" font-size="5.8" fill="none" stroke="#c2c2c2" stroke-width="0.6" textLength="13" lengthAdjust="spacingAndGlyphs">TECH</text></g><g transform="translate(197.00,241.30) rotate(-26)"><rect x="0.6" y="-5.9" width="14" height="5.6" rx="0.8" fill="none" stroke="#c2c2c2" stroke-width="1.1"/><text x="7.6" y="-1.5" font-family="Liberation Sans" font-weight="bold" font-size="4.8" text-anchor="middle" fill="#c2c2c2" textLength="11" lengthAdjust="spacingAndGlyphs">STOP</text><circle cx="19" cy="-3.1" r="2.4" fill="none" stroke="#c2c2c2" stroke-width="1.05"/><circle cx="19" cy="-3.1" r="0.7" fill="#c2c2c2"/><text x="22.6" y="-0.7" font-family="Liberation Sans" font-size="5.8" fill="none" stroke="#c2c2c2" stroke-width="0.6" textLength="13" lengthAdjust="spacingAndGlyphs">TECH</text></g><g transform="translate(209.30,262.10) rotate(-26)"><rect x="0.6" y="-5.9" width="14" height="5.6" rx="0.8" fill="none" stroke="#c2c2c2" stroke-width="1.1"/><text x="7.6" y="-1.5" font-family="Liberation Sans" font-weight="bold" font-size="4.8" text-anchor="middle" fill="#c2c2c2" textLength="11" lengthAdjust="spacingAndGlyphs">STOP</text><circle cx="19" cy="-3.1" r="2.4" fill="none" stroke="#c2c2c2" stroke-width="1.05"/><circle cx="19" cy="-3.1" r="0.7" fill="#c2c2c2"/><text x="22.6" y="-0.7" font-family="Liberation Sans" font-size="5.8" fill="none" stroke="#c2c2c2" stroke-width="0.6" textLength="13" lengthAdjust="spacingAndGlyphs">TECH</text></g><g transform="translate(221.60,282.90) rotate(-26)"><rect x="0.6" y="-5.9" width="14" height="5.6" rx="0.8" fill="none" stroke="#c2c2c2" stroke-width="1.1"/><text x="7.6" y="-1.5" font-family="Liberation Sans" font-weight="bold" font-size="4.8" text-anchor="middle" fill="#c2c2c2" textLength="11" lengthAdjust="spacingAndGlyphs">STOP</text><circle cx="19" cy="-3.1" r="2.4" fill="none" stroke="#c2c2c2" stroke-width="1.05"/><circle cx="19" cy="-3.1" r="0.7" fill="#c2c2c2"/><text x="22.6" y="-0.7" font-family="Liberation Sans" font-size="5.8" fill="none" stroke="#c2c2c2" stroke-width="0.6" textLength="13" lengthAdjust="spacingAndGlyphs">TECH</text></g><g transform="translate(233.90,303.70) rotate(-26)"><rect x="0.6" y="-5.9" width="14" height="5.6" rx="0.8" fill="none" stroke="#c2c2c2" stroke-width="1.1"/><text x="7.6" y="-1.5" font-family="Liberation Sans" font-weight="bold" font-size="4.8" text-anchor="middle" fill="#c2c2c2" textLength="11" lengthAdjust="spacingAndGlyphs">STOP</text><circle cx="19" cy="-3.1" r="2.4" fill="none" stroke="#c2c2c2" stroke-width="1.05"/><circle cx="19" cy="-3.1" r="0.7" fill="#c2c2c2"/><text x="22.6" y="-0.7" font-family="Liberation Sans" font-size="5.8" fill="none" stroke="#c2c2c2" stroke-width="0.6" textLength="13" lengthAdjust="spacingAndGlyphs">TECH</text></g><g transform="translate(246.20,324.50) rotate(-26)"><rect x="0.6" y="-5.9" width="14" height="5.6" rx="0.8" fill="none" stroke="#c2c2c2" stroke-width="1.1"/><text x="7.6" y="-1.5" font-family="Liberation Sans" font-weight="bold" font-size="4.8" text-anchor="middle" fill="#c2c2c2" textLength="11" lengthAdjust="spacingAndGlyphs">STOP</text><circle cx="19" cy="-3.1" r="2.4" fill="none" stroke="#c2c2c2" stroke-width="1.05"/><circle cx="19" cy="-3.1" r="0.7" fill="#c2c2c2"/><text x="22.6" y="-0.7" font-family="Liberation Sans" font-size="5.8" fill="none" stroke="#c2c2c2" stroke-width="0.6" textLength="13" lengthAdjust="spacingAndGlyphs">TECH</text></g><g transform="translate(258.50,345.30) rotate(-26)"><rect x="0.6" y="-5.9" width="14" height="5.6" rx="0.8" fill="none" stroke="#c2c2c2" stroke-width="1.1"/><text x="7.6" y="-1.5" font-family="Liberation Sans" font-weight="bold" font-size="4.8" text-anchor="middle" fill="#c2c2c2" textLength="11" lengthAdjust="spacingAndGlyphs">STOP</text><circle cx="19" cy="-3.1" r="2.4" fill="none" stroke="#c2c2c2" stroke-width="1.05"/><circle cx="19" cy="-3.1" r="0.7" fill="#c2c2c2"/><text x="22.6" y="-0.7" font-family="Liberation Sans" font-size="5.8" fill="none" stroke="#c2c2c2" stroke-width="0.6" textLength="13" lengthAdjust="spacingAndGlyphs">TECH</text></g><g transform="translate(223.00,240.10) rotate(-26)"><rect x="0.6" y="-5.9" width="14" height="5.6" rx="0.8" fill="none" stroke="#c2c2c2" stroke-width="1.1"/><text x="7.6" y="-1.5" font-family="Liberation Sans" font-weight="bold" font-size="4.8" text-anchor="middle" fill="#c2c2c2" textLength="11" lengthAdjust="spacingAndGlyphs">STOP</text><circle cx="19" cy="-3.1" r="2.4" fill="none" stroke="#c2c2c2" stroke-width="1.05"/><circle cx="19" cy="-3.1" r="0.7" fill="#c2c2c2"/><text x="22.6" y="-0.7" font-family="Liberation Sans" font-size="5.8" fill="none" stroke="#c2c2c2" stroke-width="0.6" textLength="13" lengthAdjust="spacingAndGlyphs">TECH</text></g><g transform="translate(235.30,260.90) rotate(-26)"><rect x="0.6" y="-5.9" width="14" height="5.6" rx="0.8" fill="none" stroke="#c2c2c2" stroke-width="1.1"/><text x="7.6" y="-1.5" font-family="Liberation Sans" font-weight="bold" font-size="4.8" text-anchor="middle" fill="#c2c2c2" textLength="11" lengthAdjust="spacingAndGlyphs">STOP</text><circle cx="19" cy="-3.1" r="2.4" fill="none" stroke="#c2c2c2" stroke-width="1.05"/><circle cx="19" cy="-3.1" r="0.7" fill="#c2c2c2"/><text x="22.6" y="-0.7" font-family="Liberation Sans" font-size="5.8" fill="none" stroke="#c2c2c2" stroke-width="0.6" textLength="13" lengthAdjust="spacingAndGlyphs">TECH</text></g><g transform="translate(247.60,281.70) rotate(-26)"><rect x="0.6" y="-5.9" width="14" height="5.6" rx="0.8" fill="none" stroke="#c2c2c2" stroke-width="1.1"/><text x="7.6" y="-1.5" font-family="Liberation Sans" font-weight="bold" font-size="4.8" text-anchor="middle" fill="#c2c2c2" textLength="11" lengthAdjust="spacingAndGlyphs">STOP</text><circle cx="19" cy="-3.1" r="2.4" fill="none" stroke="#c2c2c2" stroke-width="1.05"/><circle cx="19" cy="-3.1" r="0.7" fill="#c2c2c2"/><text x="22.6" y="-0.7" font-family="Liberation Sans" font-size="5.8" fill="none" stroke="#c2c2c2" stroke-width="0.6" textLength="13" lengthAdjust="spacingAndGlyphs">TECH</text></g><g transform="translate(259.90,302.50) rotate(-26)"><rect x="0.6" y="-5.9" width="14" height="5.6" rx="0.8" fill="none" stroke="#c2c2c2" stroke-width="1.1"/><text x="7.6" y="-1.5" font-family="Liberation Sans" font-weight="bold" font-size="4.8" text-anchor="middle" fill="#c2c2c2" textLength="11" lengthAdjust="spacingAndGlyphs">STOP</text><circle cx="19" cy="-3.1" r="2.4" fill="none" stroke="#c2c2c2" stroke-width="1.05"/><circle cx="19" cy="-3.1" r="0.7" fill="#c2c2c2"/><text x="22.6" y="-0.7" font-family="Liberation Sans" font-size="5.8" fill="none" stroke="#c2c2c2" stroke-width="0.6" textLength="13" lengthAdjust="spacingAndGlyphs">TECH</text></g><g transform="translate(272.20,323.30) rotate(-26)"><rect x="0.6" y="-5.9" width="14" height="5.6" rx="0.8" fill="none" stroke="#c2c2c2" stroke-width="1.1"/><text x="7.6" y="-1.5" font-family="Liberation Sans" font-weight="bold" font-size="4.8" text-anchor="middle" fill="#c2c2c2" textLength="11" lengthAdjust="spacingAndGlyphs">STOP</text><circle cx="19" cy="-3.1" r="2.4" fill="none" stroke="#c2c2c2" stroke-width="1.05"/><circle cx="19" cy="-3.1" r="0.7" fill="#c2c2c2"/><text x="22.6" y="-0.7" font-family="Liberation Sans" font-size="5.8" fill="none" stroke="#c2c2c2" stroke-width="0.6" textLength="13" lengthAdjust="spacingAndGlyphs">TECH</text></g><g transform="translate(284.50,344.10) rotate(-26)"><rect x="0.6" y="-5.9" width="14" height="5.6" rx="0.8" fill="none" stroke="#c2c2c2" stroke-width="1.1"/><text x="7.6" y="-1.5" font-family="Liberation Sans" font-weight="bold" font-size="4.8" text-anchor="middle" fill="#c2c2c2" textLength="11" lengthAdjust="spacingAndGlyphs">STOP</text><circle cx="19" cy="-3.1" r="2.4" fill="none" stroke="#c2c2c2" stroke-width="1.05"/><circle cx="19" cy="-3.1" r="0.7" fill="#c2c2c2"/><text x="22.6" y="-0.7" font-family="Liberation Sans" font-size="5.8" fill="none" stroke="#c2c2c2" stroke-width="0.6" textLength="13" lengthAdjust="spacingAndGlyphs">TECH</text></g><g transform="translate(249.00,238.90) rotate(-26)"><rect x="0.6" y="-5.9" width="14" height="5.6" rx="0.8" fill="none" stroke="#c2c2c2" stroke-width="1.1"/><text x="7.6" y="-1.5" font-family="Liberation Sans" font-weight="bold" font-size="4.8" text-anchor="middle" fill="#c2c2c2" textLength="11" lengthAdjust="spacingAndGlyphs">STOP</text><circle cx="19" cy="-3.1" r="2.4" fill="none" stroke="#c2c2c2" stroke-width="1.05"/><circle cx="19" cy="-3.1" r="0.7" fill="#c2c2c2"/><text x="22.6" y="-0.7" font-family="Liberation Sans" font-size="5.8" fill="none" stroke="#c2c2c2" stroke-width="0.6" textLength="13" lengthAdjust="spacingAndGlyphs">TECH</text></g><g transform="translate(261.30,259.70) rotate(-26)"><rect x="0.6" y="-5.9" width="14" height="5.6" rx="0.8" fill="none" stroke="#c2c2c2" stroke-width="1.1"/><text x="7.6" y="-1.5" font-family="Liberation Sans" font-weight="bold" font-size="4.8" text-anchor="middle" fill="#c2c2c2" textLength="11" lengthAdjust="spacingAndGlyphs">STOP</text><circle cx="19" cy="-3.1" r="2.4" fill="none" stroke="#c2c2c2" stroke-width="1.05"/><circle cx="19" cy="-3.1" r="0.7" fill="#c2c2c2"/><text x="22.6" y="-0.7" font-family="Liberation Sans" font-size="5.8" fill="none" stroke="#c2c2c2" stroke-width="0.6" textLength="13" lengthAdjust="spacingAndGlyphs">TECH</text></g><g transform="translate(273.60,280.50) rotate(-26)"><rect x="0.6" y="-5.9" width="14" height="5.6" rx="0.8" fill="none" stroke="#c2c2c2" stroke-width="1.1"/><text x="7.6" y="-1.5" font-family="Liberation Sans" font-weight="bold" font-size="4.8" text-anchor="middle" fill="#c2c2c2" textLength="11" lengthAdjust="spacingAndGlyphs">STOP</text><circle cx="19" cy="-3.1" r="2.4" fill="none" stroke="#c2c2c2" stroke-width="1.05"/><circle cx="19" cy="-3.1" r="0.7" fill="#c2c2c2"/><text x="22.6" y="-0.7" font-family="Liberation Sans" font-size="5.8" fill="none" stroke="#c2c2c2" stroke-width="0.6" textLength="13" lengthAdjust="spacingAndGlyphs">TECH</text></g><g transform="translate(285.90,301.30) rotate(-26)"><rect x="0.6" y="-5.9" width="14" height="5.6" rx="0.8" fill="none" stroke="#c2c2c2" stroke-width="1.1"/><text x="7.6" y="-1.5" font-family="Liberation Sans" font-weight="bold" font-size="4.8" text-anchor="middle" fill="#c2c2c2" textLength="11" lengthAdjust="spacingAndGlyphs">STOP</text><circle cx="19" cy="-3.1" r="2.4" fill="none" stroke="#c2c2c2" stroke-width="1.05"/><circle cx="19" cy="-3.1" r="0.7" fill="#c2c2c2"/><text x="22.6" y="-0.7" font-family="Liberation Sans" font-size="5.8" fill="none" stroke="#c2c2c2" stroke-width="0.6" textLength="13" lengthAdjust="spacingAndGlyphs">TECH</text></g><g transform="translate(298.20,322.10) rotate(-26)"><rect x="0.6" y="-5.9" width="14" height="5.6" rx="0.8" fill="none" stroke="#c2c2c2" stroke-width="1.1"/><text x="7.6" y="-1.5" font-family="Liberation Sans" font-weight="bold" font-size="4.8" text-anchor="middle" fill="#c2c2c2" textLength="11" lengthAdjust="spacingAndGlyphs">STOP</text><circle cx="19" cy="-3.1" r="2.4" fill="none" stroke="#c2c2c2" stroke-width="1.05"/><circle cx="19" cy="-3.1" r="0.7" fill="#c2c2c2"/><text x="22.6" y="-0.7" font-family="Liberation Sans" font-size="5.8" fill="none" stroke="#c2c2c2" stroke-width="0.6" textLength="13" lengthAdjust="spacingAndGlyphs">TECH</text></g><g transform="translate(310.50,342.90) rotate(-26)"><rect x="0.6" y="-5.9" width="14" height="5.6" rx="0.8" fill="none" stroke="#c2c2c2" stroke-width="1.1"/><text x="7.6" y="-1.5" font-family="Liberation Sans" font-weight="bold" font-size="4.8" text-anchor="middle" fill="#c2c2c2" textLength="11" lengthAdjust="spacingAndGlyphs">STOP</text><circle cx="19" cy="-3.1" r="2.4" fill="none" stroke="#c2c2c2" stroke-width="1.05"/><circle cx="19" cy="-3.1" r="0.7" fill="#c2c2c2"/><text x="22.6" y="-0.7" font-family="Liberation Sans" font-size="5.8" fill="none" stroke="#c2c2c2" stroke-width="0.6" textLength="13" lengthAdjust="spacingAndGlyphs">TECH</text></g><g transform="translate(275.00,237.70) rotate(-26)"><rect x="0.6" y="-5.9" width="14" height="5.6" rx="0.8" fill="none" stroke="#c2c2c2" stroke-width="1.1"/><text x="7.6" y="-1.5" font-family="Liberation Sans" font-weight="bold" font-size="4.8" text-anchor="middle" fill="#c2c2c2" textLength="11" lengthAdjust="spacingAndGlyphs">STOP</text><circle cx="19" cy="-3.1" r="2.4" fill="none" stroke="#c2c2c2" stroke-width="1.05"/><circle cx="19" cy="-3.1" r="0.7" fill="#c2c2c2"/><text x="22.6" y="-0.7" font-family="Liberation Sans" font-size="5.8" fill="none" stroke="#c2c2c2" stroke-width="0.6" textLength="13" lengthAdjust="spacingAndGlyphs">TECH</text></g><g transform="translate(287.30,258.50) rotate(-26)"><rect x="0.6" y="-5.9" width="14" height="5.6" rx="0.8" fill="none" stroke="#c2c2c2" stroke-width="1.1"/><text x="7.6" y="-1.5" font-family="Liberation Sans" font-weight="bold" font-size="4.8" text-anchor="middle" fill="#c2c2c2" textLength="11" lengthAdjust="spacingAndGlyphs">STOP</text><circle cx="19" cy="-3.1" r="2.4" fill="none" stroke="#c2c2c2" stroke-width="1.05"/><circle cx="19" cy="-3.1" r="0.7" fill="#c2c2c2"/><text x="22.6" y="-0.7" font-family="Liberation Sans" font-size="5.8" fill="none" stroke="#c2c2c2" stroke-width="0.6" textLength="13" lengthAdjust="spacingAndGlyphs">TECH</text></g><g transform="translate(299.60,279.30) rotate(-26)"><rect x="0.6" y="-5.9" width="14" height="5.6" rx="0.8" fill="none" stroke="#c2c2c2" stroke-width="1.1"/><text x="7.6" y="-1.5" font-family="Liberation Sans" font-weight="bold" font-size="4.8" text-anchor="middle" fill="#c2c2c2" textLength="11" lengthAdjust="spacingAndGlyphs">STOP</text><circle cx="19" cy="-3.1" r="2.4" fill="none" stroke="#c2c2c2" stroke-width="1.05"/><circle cx="19" cy="-3.1" r="0.7" fill="#c2c2c2"/><text x="22.6" y="-0.7" font-family="Liberation Sans" font-size="5.8" fill="none" stroke="#c2c2c2" stroke-width="0.6" textLength="13" lengthAdjust="spacingAndGlyphs">TECH</text></g><g transform="translate(311.90,300.10) rotate(-26)"><rect x="0.6" y="-5.9" width="14" height="5.6" rx="0.8" fill="none" stroke="#c2c2c2" stroke-width="1.1"/><text x="7.6" y="-1.5" font-family="Liberation Sans" font-weight="bold" font-size="4.8" text-anchor="middle" fill="#c2c2c2" textLength="11" lengthAdjust="spacingAndGlyphs">STOP</text><circle cx="19" cy="-3.1" r="2.4" fill="none" stroke="#c2c2c2" stroke-width="1.05"/><circle cx="19" cy="-3.1" r="0.7" fill="#c2c2c2"/><text x="22.6" y="-0.7" font-family="Liberation Sans" font-size="5.8" fill="none" stroke="#c2c2c2" stroke-width="0.6" textLength="13" lengthAdjust="spacingAndGlyphs">TECH</text></g><g transform="translate(324.20,320.90) rotate(-26)"><rect x="0.6" y="-5.9" width="14" height="5.6" rx="0.8" fill="none" stroke="#c2c2c2" stroke-width="1.1"/><text x="7.6" y="-1.5" font-family="Liberation Sans" font-weight="bold" font-size="4.8" text-anchor="middle" fill="#c2c2c2" textLength="11" lengthAdjust="spacingAndGlyphs">STOP</text><circle cx="19" cy="-3.1" r="2.4" fill="none" stroke="#c2c2c2" stroke-width="1.05"/><circle cx="19" cy="-3.1" r="0.7" fill="#c2c2c2"/><text x="22.6" y="-0.7" font-family="Liberation Sans" font-size="5.8" fill="none" stroke="#c2c2c2" stroke-width="0.6" textLength="13" lengthAdjust="spacingAndGlyphs">TECH</text></g><g transform="translate(301.00,236.50) rotate(-26)"><rect x="0.6" y="-5.9" width="14" height="5.6" rx="0.8" fill="none" stroke="#c2c2c2" stroke-width="1.1"/><text x="7.6" y="-1.5" font-family="Liberation Sans" font-weight="bold" font-size="4.8" text-anchor="middle" fill="#c2c2c2" textLength="11" lengthAdjust="spacingAndGlyphs">STOP</text><circle cx="19" cy="-3.1" r="2.4" fill="none" stroke="#c2c2c2" stroke-width="1.05"/><circle cx="19" cy="-3.1" r="0.7" fill="#c2c2c2"/><text x="22.6" y="-0.7" font-family="Liberation Sans" font-size="5.8" fill="none" stroke="#c2c2c2" stroke-width="0.6" textLength="13" lengthAdjust="spacingAndGlyphs">TECH</text></g><g transform="translate(313.30,257.30) rotate(-26)"><rect x="0.6" y="-5.9" width="14" height="5.6" rx="0.8" fill="none" stroke="#c2c2c2" stroke-width="1.1"/><text x="7.6" y="-1.5" font-family="Liberation Sans" font-weight="bold" font-size="4.8" text-anchor="middle" fill="#c2c2c2" textLength="11" lengthAdjust="spacingAndGlyphs">STOP</text><circle cx="19" cy="-3.1" r="2.4" fill="none" stroke="#c2c2c2" stroke-width="1.05"/><circle cx="19" cy="-3.1" r="0.7" fill="#c2c2c2"/><text x="22.6" y="-0.7" font-family="Liberation Sans" font-size="5.8" fill="none" stroke="#c2c2c2" stroke-width="0.6" textLength="13" lengthAdjust="spacingAndGlyphs">TECH</text></g></g>
<path d="M154.5,228.8 L160,225.5 L200.5,225.5 C204.5,225.5 205.5,218.3 213,218.3 C220.5,218.3 221.5,225.5 225.5,225.5 L245.5,225.5 C249.5,225.5 250.5,218.3 258,218.3 C265.5,218.3 266.5,225.5 270.5,225.5 L310.5,225.5 L316,228.8 L316,312.3 L286.3,320.25 L184.2,320.25 L154.5,312.3 Z" fill="none" stroke="#4a4a4a" stroke-width="1.15"/>
<path d="M155.8,262 Q155.8,256.2 161,254.6 Q235.25,228.4 309.5,254.6 Q314.7,256.2 314.7,262 L314.7,305.5 C314.7,309.0 311.5,311.0 307.5,311.7 L283.5,318.9 L187,318.9 L163,311.7 C159,311.0 155.8,309.0 155.8,305.5 Z" fill="none" stroke="#4a4a4a" stroke-width="1.0"/>
<ellipse cx="164.5" cy="235.2" rx="6.2" ry="5.1" fill="none" stroke="#4a4a4a" stroke-width="1.1"/><circle cx="213" cy="230" r="4.7" fill="none" stroke="#4a4a4a" stroke-width="1.1"/><circle cx="257.7" cy="230" r="4.7" fill="none" stroke="#4a4a4a" stroke-width="1.1"/><ellipse cx="305.9" cy="235.2" rx="6.2" ry="5.1" fill="none" stroke="#4a4a4a" stroke-width="1.1"/>
<path d="M232.75,241.6 V318 M237.6,241.6 V318" stroke="#4a4a4a" stroke-width="1.1"/>
<path d="M184.3,321.75 L286.3,321.75 L283.75,328.5 L263.5,329.25 C259,329.5 258,334.5 254,334.5 L215.5,334.5 C212,334.5 211,329.5 206.5,329.25 L186.25,328.5 Z" fill="#fff" stroke="#4a4a4a" stroke-width="1"/>
<path d="M217.5,322 V334.5 M253,322 V334.5" stroke="#777" stroke-width="0.8" stroke-dasharray="1.2,0.8"/>
<circle cx="227.5" cy="328.5" r="2.8" fill="none" stroke="#3a3a3a" stroke-width="1"/><circle cx="242.8" cy="328.5" r="2.8" fill="none" stroke="#3a3a3a" stroke-width="1"/>
<g stroke="#8a8a8a" stroke-width="0.9" fill="none"><path d="M128.5,343.3 H154 M128.5,365.5 H154"/></g>
<path d="M130,347 V350 M130,361 V362" stroke="#d2d2d2" stroke-width="1.8"/>
<path d="M130,343.5 L128.3,347.1 L131.7,347.1 Z" fill="#4a4a4a"/><path d="M130,365.2 L128.3,361.59999999999997 L131.7,361.59999999999997 Z" fill="#4a4a4a"/>
<text x="0" y="0" transform="translate(120.4,357.7) scale(1.03,1)" font-family="Liberation Sans" font-weight="bold" font-style="italic" font-size="9.0" fill="#222" stroke="#222" stroke-width="0.25">14.5</text>
<g clip-path="url(#fr3)"><g transform="translate(116.10,346.10) rotate(-26)"><rect x="0.6" y="-5.9" width="14" height="5.6" rx="0.8" fill="none" stroke="#c2c2c2" stroke-width="1.1"/><text x="7.6" y="-1.5" font-family="Liberation Sans" font-weight="bold" font-size="4.8" text-anchor="middle" fill="#c2c2c2" textLength="11" lengthAdjust="spacingAndGlyphs">STOP</text><circle cx="19" cy="-3.1" r="2.4" fill="none" stroke="#c2c2c2" stroke-width="1.05"/><circle cx="19" cy="-3.1" r="0.7" fill="#c2c2c2"/><text x="22.6" y="-0.7" font-family="Liberation Sans" font-size="5.8" fill="none" stroke="#c2c2c2" stroke-width="0.6" textLength="13" lengthAdjust="spacingAndGlyphs">TECH</text></g><g transform="translate(128.40,366.90) rotate(-26)"><rect x="0.6" y="-5.9" width="14" height="5.6" rx="0.8" fill="none" stroke="#c2c2c2" stroke-width="1.1"/><text x="7.6" y="-1.5" font-family="Liberation Sans" font-weight="bold" font-size="4.8" text-anchor="middle" fill="#c2c2c2" textLength="11" lengthAdjust="spacingAndGlyphs">STOP</text><circle cx="19" cy="-3.1" r="2.4" fill="none" stroke="#c2c2c2" stroke-width="1.05"/><circle cx="19" cy="-3.1" r="0.7" fill="#c2c2c2"/><text x="22.6" y="-0.7" font-family="Liberation Sans" font-size="5.8" fill="none" stroke="#c2c2c2" stroke-width="0.6" textLength="13" lengthAdjust="spacingAndGlyphs">TECH</text></g><g transform="translate(142.10,344.90) rotate(-26)"><rect x="0.6" y="-5.9" width="14" height="5.6" rx="0.8" fill="none" stroke="#c2c2c2" stroke-width="1.1"/><text x="7.6" y="-1.5" font-family="Liberation Sans" font-weight="bold" font-size="4.8" text-anchor="middle" fill="#c2c2c2" textLength="11" lengthAdjust="spacingAndGlyphs">STOP</text><circle cx="19" cy="-3.1" r="2.4" fill="none" stroke="#c2c2c2" stroke-width="1.05"/><circle cx="19" cy="-3.1" r="0.7" fill="#c2c2c2"/><text x="22.6" y="-0.7" font-family="Liberation Sans" font-size="5.8" fill="none" stroke="#c2c2c2" stroke-width="0.6" textLength="13" lengthAdjust="spacingAndGlyphs">TECH</text></g><g transform="translate(154.40,365.70) rotate(-26)"><rect x="0.6" y="-5.9" width="14" height="5.6" rx="0.8" fill="none" stroke="#c2c2c2" stroke-width="1.1"/><text x="7.6" y="-1.5" font-family="Liberation Sans" font-weight="bold" font-size="4.8" text-anchor="middle" fill="#c2c2c2" textLength="11" lengthAdjust="spacingAndGlyphs">STOP</text><circle cx="19" cy="-3.1" r="2.4" fill="none" stroke="#c2c2c2" stroke-width="1.05"/><circle cx="19" cy="-3.1" r="0.7" fill="#c2c2c2"/><text x="22.6" y="-0.7" font-family="Liberation Sans" font-size="5.8" fill="none" stroke="#c2c2c2" stroke-width="0.6" textLength="13" lengthAdjust="spacingAndGlyphs">TECH</text></g><g transform="translate(168.10,343.70) rotate(-26)"><rect x="0.6" y="-5.9" width="14" height="5.6" rx="0.8" fill="none" stroke="#c2c2c2" stroke-width="1.1"/><text x="7.6" y="-1.5" font-family="Liberation Sans" font-weight="bold" font-size="4.8" text-anchor="middle" fill="#c2c2c2" textLength="11" lengthAdjust="spacingAndGlyphs">STOP</text><circle cx="19" cy="-3.1" r="2.4" fill="none" stroke="#c2c2c2" stroke-width="1.05"/><circle cx="19" cy="-3.1" r="0.7" fill="#c2c2c2"/><text x="22.6" y="-0.7" font-family="Liberation Sans" font-size="5.8" fill="none" stroke="#c2c2c2" stroke-width="0.6" textLength="13" lengthAdjust="spacingAndGlyphs">TECH</text></g><g transform="translate(180.40,364.50) rotate(-26)"><rect x="0.6" y="-5.9" width="14" height="5.6" rx="0.8" fill="none" stroke="#c2c2c2" stroke-width="1.1"/><text x="7.6" y="-1.5" font-family="Liberation Sans" font-weight="bold" font-size="4.8" text-anchor="middle" fill="#c2c2c2" textLength="11" lengthAdjust="spacingAndGlyphs">STOP</text><circle cx="19" cy="-3.1" r="2.4" fill="none" stroke="#c2c2c2" stroke-width="1.05"/><circle cx="19" cy="-3.1" r="0.7" fill="#c2c2c2"/><text x="22.6" y="-0.7" font-family="Liberation Sans" font-size="5.8" fill="none" stroke="#c2c2c2" stroke-width="0.6" textLength="13" lengthAdjust="spacingAndGlyphs">TECH</text></g><g transform="translate(192.70,385.30) rotate(-26)"><rect x="0.6" y="-5.9" width="14" height="5.6" rx="0.8" fill="none" stroke="#c2c2c2" stroke-width="1.1"/><text x="7.6" y="-1.5" font-family="Liberation Sans" font-weight="bold" font-size="4.8" text-anchor="middle" fill="#c2c2c2" textLength="11" lengthAdjust="spacingAndGlyphs">STOP</text><circle cx="19" cy="-3.1" r="2.4" fill="none" stroke="#c2c2c2" stroke-width="1.05"/><circle cx="19" cy="-3.1" r="0.7" fill="#c2c2c2"/><text x="22.6" y="-0.7" font-family="Liberation Sans" font-size="5.8" fill="none" stroke="#c2c2c2" stroke-width="0.6" textLength="13" lengthAdjust="spacingAndGlyphs">TECH</text></g><g transform="translate(194.10,342.50) rotate(-26)"><rect x="0.6" y="-5.9" width="14" height="5.6" rx="0.8" fill="none" stroke="#c2c2c2" stroke-width="1.1"/><text x="7.6" y="-1.5" font-family="Liberation Sans" font-weight="bold" font-size="4.8" text-anchor="middle" fill="#c2c2c2" textLength="11" lengthAdjust="spacingAndGlyphs">STOP</text><circle cx="19" cy="-3.1" r="2.4" fill="none" stroke="#c2c2c2" stroke-width="1.05"/><circle cx="19" cy="-3.1" r="0.7" fill="#c2c2c2"/><text x="22.6" y="-0.7" font-family="Liberation Sans" font-size="5.8" fill="none" stroke="#c2c2c2" stroke-width="0.6" textLength="13" lengthAdjust="spacingAndGlyphs">TECH</text></g><g transform="translate(206.40,363.30) rotate(-26)"><rect x="0.6" y="-5.9" width="14" height="5.6" rx="0.8" fill="none" stroke="#c2c2c2" stroke-width="1.1"/><text x="7.6" y="-1.5" font-family="Liberation Sans" font-weight="bold" font-size="4.8" text-anchor="middle" fill="#c2c2c2" textLength="11" lengthAdjust="spacingAndGlyphs">STOP</text><circle cx="19" cy="-3.1" r="2.4" fill="none" stroke="#c2c2c2" stroke-width="1.05"/><circle cx="19" cy="-3.1" r="0.7" fill="#c2c2c2"/><text x="22.6" y="-0.7" font-family="Liberation Sans" font-size="5.8" fill="none" stroke="#c2c2c2" stroke-width="0.6" textLength="13" lengthAdjust="spacingAndGlyphs">TECH</text></g><g transform="translate(218.70,384.10) rotate(-26)"><rect x="0.6" y="-5.9" width="14" height="5.6" rx="0.8" fill="none" stroke="#c2c2c2" stroke-width="1.1"/><text x="7.6" y="-1.5" font-family="Liberation Sans" font-weight="bold" font-size="4.8" text-anchor="middle" fill="#c2c2c2" textLength="11" lengthAdjust="spacingAndGlyphs">STOP</text><circle cx="19" cy="-3.1" r="2.4" fill="none" stroke="#c2c2c2" stroke-width="1.05"/><circle cx="19" cy="-3.1" r="0.7" fill="#c2c2c2"/><text x="22.6" y="-0.7" font-family="Liberation Sans" font-size="5.8" fill="none" stroke="#c2c2c2" stroke-width="0.6" textLength="13" lengthAdjust="spacingAndGlyphs">TECH</text></g><g transform="translate(220.10,341.30) rotate(-26)"><rect x="0.6" y="-5.9" width="14" height="5.6" rx="0.8" fill="none" stroke="#c2c2c2" stroke-width="1.1"/><text x="7.6" y="-1.5" font-family="Liberation Sans" font-weight="bold" font-size="4.8" text-anchor="middle" fill="#c2c2c2" textLength="11" lengthAdjust="spacingAndGlyphs">STOP</text><circle cx="19" cy="-3.1" r="2.4" fill="none" stroke="#c2c2c2" stroke-width="1.05"/><circle cx="19" cy="-3.1" r="0.7" fill="#c2c2c2"/><text x="22.6" y="-0.7" font-family="Liberation Sans" font-size="5.8" fill="none" stroke="#c2c2c2" stroke-width="0.6" textLength="13" lengthAdjust="spacingAndGlyphs">TECH</text></g><g transform="translate(232.40,362.10) rotate(-26)"><rect x="0.6" y="-5.9" width="14" height="5.6" rx="0.8" fill="none" stroke="#c2c2c2" stroke-width="1.1"/><text x="7.6" y="-1.5" font-family="Liberation Sans" font-weight="bold" font-size="4.8" text-anchor="middle" fill="#c2c2c2" textLength="11" lengthAdjust="spacingAndGlyphs">STOP</text><circle cx="19" cy="-3.1" r="2.4" fill="none" stroke="#c2c2c2" stroke-width="1.05"/><circle cx="19" cy="-3.1" r="0.7" fill="#c2c2c2"/><text x="22.6" y="-0.7" font-family="Liberation Sans" font-size="5.8" fill="none" stroke="#c2c2c2" stroke-width="0.6" textLength="13" lengthAdjust="spacingAndGlyphs">TECH</text></g><g transform="translate(244.70,382.90) rotate(-26)"><rect x="0.6" y="-5.9" width="14" height="5.6" rx="0.8" fill="none" stroke="#c2c2c2" stroke-width="1.1"/><text x="7.6" y="-1.5" font-family="Liberation Sans" font-weight="bold" font-size="4.8" text-anchor="middle" fill="#c2c2c2" textLength="11" lengthAdjust="spacingAndGlyphs">STOP</text><circle cx="19" cy="-3.1" r="2.4" fill="none" stroke="#c2c2c2" stroke-width="1.05"/><circle cx="19" cy="-3.1" r="0.7" fill="#c2c2c2"/><text x="22.6" y="-0.7" font-family="Liberation Sans" font-size="5.8" fill="none" stroke="#c2c2c2" stroke-width="0.6" textLength="13" lengthAdjust="spacingAndGlyphs">TECH</text></g><g transform="translate(246.10,340.10) rotate(-26)"><rect x="0.6" y="-5.9" width="14" height="5.6" rx="0.8" fill="none" stroke="#c2c2c2" stroke-width="1.1"/><text x="7.6" y="-1.5" font-family="Liberation Sans" font-weight="bold" font-size="4.8" text-anchor="middle" fill="#c2c2c2" textLength="11" lengthAdjust="spacingAndGlyphs">STOP</text><circle cx="19" cy="-3.1" r="2.4" fill="none" stroke="#c2c2c2" stroke-width="1.05"/><circle cx="19" cy="-3.1" r="0.7" fill="#c2c2c2"/><text x="22.6" y="-0.7" font-family="Liberation Sans" font-size="5.8" fill="none" stroke="#c2c2c2" stroke-width="0.6" textLength="13" lengthAdjust="spacingAndGlyphs">TECH</text></g><g transform="translate(258.40,360.90) rotate(-26)"><rect x="0.6" y="-5.9" width="14" height="5.6" rx="0.8" fill="none" stroke="#c2c2c2" stroke-width="1.1"/><text x="7.6" y="-1.5" font-family="Liberation Sans" font-weight="bold" font-size="4.8" text-anchor="middle" fill="#c2c2c2" textLength="11" lengthAdjust="spacingAndGlyphs">STOP</text><circle cx="19" cy="-3.1" r="2.4" fill="none" stroke="#c2c2c2" stroke-width="1.05"/><circle cx="19" cy="-3.1" r="0.7" fill="#c2c2c2"/><text x="22.6" y="-0.7" font-family="Liberation Sans" font-size="5.8" fill="none" stroke="#c2c2c2" stroke-width="0.6" textLength="13" lengthAdjust="spacingAndGlyphs">TECH</text></g><g transform="translate(270.70,381.70) rotate(-26)"><rect x="0.6" y="-5.9" width="14" height="5.6" rx="0.8" fill="none" stroke="#c2c2c2" stroke-width="1.1"/><text x="7.6" y="-1.5" font-family="Liberation Sans" font-weight="bold" font-size="4.8" text-anchor="middle" fill="#c2c2c2" textLength="11" lengthAdjust="spacingAndGlyphs">STOP</text><circle cx="19" cy="-3.1" r="2.4" fill="none" stroke="#c2c2c2" stroke-width="1.05"/><circle cx="19" cy="-3.1" r="0.7" fill="#c2c2c2"/><text x="22.6" y="-0.7" font-family="Liberation Sans" font-size="5.8" fill="none" stroke="#c2c2c2" stroke-width="0.6" textLength="13" lengthAdjust="spacingAndGlyphs">TECH</text></g><g transform="translate(272.10,338.90) rotate(-26)"><rect x="0.6" y="-5.9" width="14" height="5.6" rx="0.8" fill="none" stroke="#c2c2c2" stroke-width="1.1"/><text x="7.6" y="-1.5" font-family="Liberation Sans" font-weight="bold" font-size="4.8" text-anchor="middle" fill="#c2c2c2" textLength="11" lengthAdjust="spacingAndGlyphs">STOP</text><circle cx="19" cy="-3.1" r="2.4" fill="none" stroke="#c2c2c2" stroke-width="1.05"/><circle cx="19" cy="-3.1" r="0.7" fill="#c2c2c2"/><text x="22.6" y="-0.7" font-family="Liberation Sans" font-size="5.8" fill="none" stroke="#c2c2c2" stroke-width="0.6" textLength="13" lengthAdjust="spacingAndGlyphs">TECH</text></g><g transform="translate(284.40,359.70) rotate(-26)"><rect x="0.6" y="-5.9" width="14" height="5.6" rx="0.8" fill="none" stroke="#c2c2c2" stroke-width="1.1"/><text x="7.6" y="-1.5" font-family="Liberation Sans" font-weight="bold" font-size="4.8" text-anchor="middle" fill="#c2c2c2" textLength="11" lengthAdjust="spacingAndGlyphs">STOP</text><circle cx="19" cy="-3.1" r="2.4" fill="none" stroke="#c2c2c2" stroke-width="1.05"/><circle cx="19" cy="-3.1" r="0.7" fill="#c2c2c2"/><text x="22.6" y="-0.7" font-family="Liberation Sans" font-size="5.8" fill="none" stroke="#c2c2c2" stroke-width="0.6" textLength="13" lengthAdjust="spacingAndGlyphs">TECH</text></g><g transform="translate(296.70,380.50) rotate(-26)"><rect x="0.6" y="-5.9" width="14" height="5.6" rx="0.8" fill="none" stroke="#c2c2c2" stroke-width="1.1"/><text x="7.6" y="-1.5" font-family="Liberation Sans" font-weight="bold" font-size="4.8" text-anchor="middle" fill="#c2c2c2" textLength="11" lengthAdjust="spacingAndGlyphs">STOP</text><circle cx="19" cy="-3.1" r="2.4" fill="none" stroke="#c2c2c2" stroke-width="1.05"/><circle cx="19" cy="-3.1" r="0.7" fill="#c2c2c2"/><text x="22.6" y="-0.7" font-family="Liberation Sans" font-size="5.8" fill="none" stroke="#c2c2c2" stroke-width="0.6" textLength="13" lengthAdjust="spacingAndGlyphs">TECH</text></g><g transform="translate(310.40,358.50) rotate(-26)"><rect x="0.6" y="-5.9" width="14" height="5.6" rx="0.8" fill="none" stroke="#c2c2c2" stroke-width="1.1"/><text x="7.6" y="-1.5" font-family="Liberation Sans" font-weight="bold" font-size="4.8" text-anchor="middle" fill="#c2c2c2" textLength="11" lengthAdjust="spacingAndGlyphs">STOP</text><circle cx="19" cy="-3.1" r="2.4" fill="none" stroke="#c2c2c2" stroke-width="1.05"/><circle cx="19" cy="-3.1" r="0.7" fill="#c2c2c2"/><text x="22.6" y="-0.7" font-family="Liberation Sans" font-size="5.8" fill="none" stroke="#c2c2c2" stroke-width="0.6" textLength="13" lengthAdjust="spacingAndGlyphs">TECH</text></g><g transform="translate(322.70,379.30) rotate(-26)"><rect x="0.6" y="-5.9" width="14" height="5.6" rx="0.8" fill="none" stroke="#c2c2c2" stroke-width="1.1"/><text x="7.6" y="-1.5" font-family="Liberation Sans" font-weight="bold" font-size="4.8" text-anchor="middle" fill="#c2c2c2" textLength="11" lengthAdjust="spacingAndGlyphs">STOP</text><circle cx="19" cy="-3.1" r="2.4" fill="none" stroke="#c2c2c2" stroke-width="1.05"/><circle cx="19" cy="-3.1" r="0.7" fill="#c2c2c2"/><text x="22.6" y="-0.7" font-family="Liberation Sans" font-size="5.8" fill="none" stroke="#c2c2c2" stroke-width="0.6" textLength="13" lengthAdjust="spacingAndGlyphs">TECH</text></g></g>
<path d="M154.8,343.3 H316 V350.2 H154.8 Z M160.5,343.3 V350.2 M310.3,343.3 V350.2" fill="none" stroke="#4a4a4a" stroke-width="1.1"/>
<path d="M155.5,350.2 V365.2 H233.25 V355.5 Q235.5,351.5 237.75,355.5 V365.2 H315.5 V350.2" fill="none" stroke="#4a4a4a" stroke-width="1.1"/>
<path d="M185,345 V354.5 M285.5,345 V354.5 M223,344 V351.5 M247.5,344 V351.5" stroke="#aaa" stroke-width="0.7" stroke-dasharray="1.2,0.9"/>
<path d="M188,344.6 H217 M253.5,344.6 H282.5" stroke="#888" stroke-width="1" stroke-dasharray="1,1"/><path d="M217.5,345 V349.5 M253,345 V349.5" stroke="#999" stroke-width="0.7"/>
<g filter="url(#soft)">
<path d="M446.25,106.25 L465,98.75 L490,102.5 L502.5,111.25 L502.5,117.5 L487.5,125 L455,112.5 L447.5,110 Z" fill="#4e5154" stroke="#404346" stroke-width="0.8"/>
<path d="M447,106.3 L465,99.2 L489.5,102.8 L501.5,111.5 L500.5,115 L487,121 L470,114 L455,109.5 Z" fill="#5f6265"/>
<path d="M459,112 L468,113 M486,121 L490,123" stroke="#43464a" stroke-width="1.2"/>
<path d="M402,123.75 L426.5,113.2 L462,131.3 L462.3,133.5 L453.6,138.6 L452.3,143.6 L441.3,148.8 L433.75,150 L405,133.75 L402.5,127.5 Z" fill="#4e5154" stroke="#404346" stroke-width="0.8"/>
<path d="M402.4,123.9 L426.5,113.5 L461.6,131.4 L453.6,138.4 Q427.7,141.3 403,127 Z" fill="#5f6265"/>
<path d="M403,127 Q427.7,141.3 453.6,138.4" fill="none" stroke="#45484b" stroke-width="0.7"/>
<ellipse cx="426.5" cy="114.3" rx="1.6" ry="1" fill="#3f4245"/>
<ellipse cx="438.7" cy="119.4" rx="1.6" ry="1" fill="#3f4245"/>
<ellipse cx="447.8" cy="124.3" rx="1.6" ry="1" fill="#3f4245"/>
<ellipse cx="458.1" cy="130.9" rx="1.6" ry="1" fill="#3f4245"/>
<path d="M427,126 L432,124" stroke="#4a4d50" stroke-width="1.2"/>
<path d="M494.6,132.75 L502.5,127 L563.25,140 L563.25,144 L545.25,157.5 L530,152 L495.75,135 Z" fill="#43464a" stroke="#3c3f42" stroke-width="0.8"/>
<path d="M502.5,121.5 L516,118.1 L563.25,136.1 L563.25,141.5 L551,149 L522,137.5 L502.5,129.5 Z" fill="#66686a"/>
<path d="M537,126.3 L522,135.8" stroke="#43464a" stroke-width="1.3"/>
<path d="M502.5,129.5 L522,137.5 L551,149 L563.25,141.5" fill="none" stroke="#3d4043" stroke-width="1"/>
<path d="M457.5,149.6 L473.25,140.6 L531.75,162 L534,166.5 L509.25,183.4 L479,171 L457.5,156.4 Z" fill="#43464a" stroke="#3c3f42" stroke-width="0.8"/>
<path d="M458.6,149 L473.25,140.6 L500.25,149.6 L525,158.6 L527.25,163.1 L509.25,176.6 L459.75,155.25 Z" fill="#66686a"/>
<path d="M500.25,149.6 L482.25,162" stroke="#43464a" stroke-width="1.3"/>
<circle cx="529.5" cy="165" r="1.2" fill="#ddd"/>
</g>
<g filter="url(#soft)">
<path d="M598.1,94.6 L598.6,89.3 L612.6,89.3 L612.8000000000001,87.0 L630.8000000000001,87.0 L631.0,89.3 L646.7,89.3 L647.4,94.6 Z" fill="#4b4d51"/><path d="M584.0,99.0 L588.0,96.6 L656.2,96.6 L660.2,99.0 L660.2,138.6 Q660.2,139.6 659.2,139.6 L585.0,139.6 Q584.0,139.6 584.0,138.6 Z" fill="#4b4d51"/><circle cx="611.1" cy="137.79999999999998" r="5" fill="#4b4d51"/><circle cx="632.1" cy="137.79999999999998" r="5" fill="#4b4d51"/><circle cx="611.1" cy="138.1" r="2.6" fill="#f4f4f4"/><circle cx="632.1" cy="138.1" r="2.6" fill="#f4f4f4"/><rect x="586.0" y="132.7" width="6" height="5" rx="1.4" fill="#f4f4f4"/><rect x="653.0" y="132.7" width="6" height="5" rx="1.4" fill="#f4f4f4"/>
<path d="M681.0999999999999,94.6 L681.5999999999999,89.3 L695.5999999999999,89.3 L695.8,87.0 L713.8,87.0 L713.9999999999999,89.3 L729.6999999999999,89.3 L730.3999999999999,94.6 Z" fill="#4b4d51"/><path d="M665.8,99.0 L669.8,96.6 L740.4,96.6 L744.4,99.0 L744.4,138.6 Q744.4,139.6 743.4,139.6 L666.8,139.6 Q665.8,139.6 665.8,138.6 Z" fill="#4b4d51"/><circle cx="694.3" cy="137.79999999999998" r="5" fill="#4b4d51"/><circle cx="715.1" cy="137.79999999999998" r="5" fill="#4b4d51"/><path d="M665.8,99 L669.6,96.6 L740.4,96.6 L744.4,99 L744.4,124.75 Q705,138.5 665.8,124.75 Z" fill="#6b6c6b"/><path d="M706.1,96.6 V131.5" stroke="#3f4245" stroke-width="1.4"/><circle cx="694.3" cy="138.1" r="2.6" fill="#f4f4f4"/><circle cx="715.1" cy="138.1" r="2.6" fill="#f4f4f4"/><rect x="667.9" y="132.7" width="6" height="5" rx="1.4" fill="#f4f4f4"/><rect x="735.2" y="132.7" width="6" height="5" rx="1.4" fill="#f4f4f4"/>
<path d="M583.7,156.5 L660.0,155.2 L660.0,200.0 L584.7,200.0 L583.7,199.0 Z" fill="#4b4d51"/><circle cx="610.5" cy="157.0" r="5" fill="#4b4d51"/><circle cx="631.2" cy="157.0" r="5" fill="#4b4d51"/><circle cx="610.5" cy="157.0" r="2.6" fill="#f4f4f4"/><circle cx="631.2" cy="157.0" r="2.6" fill="#f4f4f4"/><rect x="585.5" y="157.5" width="6" height="5.2" rx="1.4" fill="#f4f4f4"/><rect x="651.9" y="157.5" width="6" height="5.2" rx="1.4" fill="#f4f4f4"/>
<path d="M666.75,156.1 L743.25,154.79999999999998 L743.25,198.9 L667.75,198.9 L666.75,197.9 Z" fill="#4b4d51"/><circle cx="694.3" cy="156.6" r="5" fill="#4b4d51"/><circle cx="715.7" cy="156.6" r="5" fill="#4b4d51"/><path d="M666.75,169 Q705,155.5 743.25,169 L743.25,197.9 Q743.25,198.9 742.25,198.9 L667.75,198.9 Q666.75,198.9 666.75,197.9 Z" fill="#6b6c6b"/><path d="M706.1,162.3 V198.9" stroke="#3f4245" stroke-width="1.4"/><circle cx="694.3" cy="156.6" r="2.6" fill="#f4f4f4"/><circle cx="715.7" cy="156.6" r="2.6" fill="#f4f4f4"/><rect x="668.25" y="157.1" width="6" height="5.2" rx="1.4" fill="#f4f4f4"/><rect x="735.2" y="157.1" width="6" height="5.2" rx="1.4" fill="#f4f4f4"/>
</g>
<g filter="url(#soft)">
<rect x="406.7" y="283" width="148.5" height="5.8" rx="1.5" fill="#46494c"/>
<path d="M409.6,288.5 H552.5 V301.8 Q552.5,303.3 551,303.3 H411.1 Q409.6,303.3 409.6,301.8 Z" fill="#525558"/>
<path d="M433,288.5 H530 V293 H433 Z" fill="#4a4d50"/>
<rect x="480" y="292.5" width="3" height="11" fill="#fafafa"/>
<rect x="401.75" y="309.5" width="162" height="7.4" rx="1.8" fill="#46494c"/>
<path d="M411.2,316.9 H552.5 V329 Q552.5,330.4 551,330.4 H412.7 Q411.2,330.4 411.2,329 Z" fill="#525558"/>
<rect x="481.3" y="320.7" width="3" height="10" fill="#fafafa"/>
</g>
<defs><linearGradient id="tg" x1="0" y1="0" x2="0" y2="1"><stop offset="0" stop-color="#f6d8d8"/><stop offset="1" stop-color="#ffffff"/></linearGradient><linearGradient id="tb" x1="0" y1="0" x2="0" y2="1"><stop offset="0" stop-color="#d84a4a"/><stop offset="1" stop-color="#a82222"/></linearGradient></defs>
<path d="M67.85,557.3 L79.2,576.5 L56.6,576.5 Z" fill="url(#tg)" stroke="url(#tb)" stroke-width="2.1" stroke-linejoin="round"/>
<path d="M66.9,564 L68.9,564 L68.4,571.6 L67.4,571.6 Z" fill="#111"/><rect x="67.1" y="572.6" width="1.7" height="1.7" fill="#111"/>
</svg>
<div class='t' style='-webkit-text-stroke:0.3px #fff;left:51.80px;top:21.56px;font-size:31px;color:#ffffff;transform:scaleX(0.7788)'>309.03310</div><div class='t' style='-webkit-text-stroke:0.3px #fff;left:626.69px;top:22.95px;font-size:30.3px;color:#ffffff;transform:scaleX(0.8055)'>Brake Pad</div><div class='t' style='-webkit-text-stroke:0;left:49.75px;top:415.59px;font-size:16.2px;color:#ffffff;transform:scaleX(0.8098)'>Inner Brake Pads Specs</div><div class='t' style='-webkit-text-stroke:0;left:222.50px;top:415.59px;font-size:16.2px;color:#ffffff;transform:scaleX(0.8112)'>Outer Brake Pads Specs</div><div class='t' style='-webkit-text-stroke:0;left:471.25px;top:415.59px;font-size:16.2px;color:#ffffff;transform:scaleX(0.7877)'>FMSI #</div><div class='t' style='-webkit-text-stroke:0;left:639.50px;top:415.59px;font-size:16.2px;color:#ffffff;transform:scaleX(0.8107)'>Related Parts</div><div class='t' style='left:79.29px;top:443.12px;font-size:12.5px;color:#1a1a1a;transform:scaleX(0.7870)'>Inner Pad Width:</div><div class='t' style='left:161.90px;top:443.12px;font-size:12.5px;color:#1a1a1a;transform:scaleX(0.7750)'>106.6</div><div class='t' style='left:76.14px;top:458.84px;font-size:12.5px;color:#1a1a1a;transform:scaleX(0.7870)'>Inner Pad Height:</div><div class='t' style='left:161.90px;top:458.84px;font-size:12.5px;color:#1a1a1a;transform:scaleX(0.7750)'>76.5</div><div class='t' style='left:43.08px;top:474.56px;font-size:12.5px;color:#1a1a1a;transform:scaleX(0.7870)'>Inner Pad Thk w/o Shim:</div><div class='t' style='left:161.90px;top:474.56px;font-size:12.5px;color:#1a1a1a;transform:scaleX(0.7750)'>14.5</div><div class='t' style='left:61.19px;top:490.28px;font-size:12.5px;color:#1a1a1a;transform:scaleX(0.7870)'>Sensor Wire Length:</div><div class='t' style='left:253.87px;top:443.12px;font-size:12.5px;color:#1a1a1a;transform:scaleX(0.7660)'>Outer Pad Width:</div><div class='t' style='left:339.30px;top:443.12px;font-size:12.5px;color:#1a1a1a;transform:scaleX(0.7750)'>106.6</div><div class='t' style='left:250.80px;top:458.84px;font-size:12.5px;color:#1a1a1a;transform:scaleX(0.7660)'>Outer Pad Height:</div><div class='t' style='left:339.30px;top:458.84px;font-size:12.5px;color:#1a1a1a;transform:scaleX(0.7750)'>67.5</div><div class='t' style='left:218.63px;top:474.56px;font-size:12.5px;color:#1a1a1a;transform:scaleX(0.7660)'>Outer Pad Thk w/o Shim:</div><div class='t' style='left:339.30px;top:474.56px;font-size:12.5px;color:#1a1a1a;transform:scaleX(0.7750)'>14.5</div><div class='t' style='left:392.20px;top:443.12px;font-size:12.5px;color:#1a1a1a;transform:scaleX(0.7870)'>FMSI:</div><div class='t' style='left:424.00px;top:443.12px;font-size:12.5px;color:#1a1a1a;transform:scaleX(0.7800)'>7227D331</div><div class='t' style='left:497.00px;top:443.12px;font-size:12.5px;color:#1a1a1a;transform:scaleX(0.7870)'>FMSI:</div><div class='t' style='left:392.20px;top:458.84px;font-size:12.5px;color:#1a1a1a;transform:scaleX(0.7870)'>FMSI:</div><div class='t' style='left:424.00px;top:458.84px;font-size:12.5px;color:#1a1a1a;transform:scaleX(0.7800)'>7343D463</div><div class='t' style='left:497.00px;top:458.84px;font-size:12.5px;color:#1a1a1a;transform:scaleX(0.7870)'>FMSI:</div><div class='t' style='left:392.20px;top:474.56px;font-size:12.5px;color:#1a1a1a;transform:scaleX(0.7870)'>FMSI:</div><div class='t' style='left:424.00px;top:474.56px;font-size:12.5px;color:#1a1a1a;transform:scaleX(0.7800)'>7465D585</div><div class='t' style='left:497.00px;top:474.56px;font-size:12.5px;color:#1a1a1a;transform:scaleX(0.7870)'>FMSI:</div><div class='t' style='left:392.20px;top:490.28px;font-size:12.5px;color:#1a1a1a;transform:scaleX(0.7870)'>FMSI:</div><div class='t' style='left:424.00px;top:490.28px;font-size:12.5px;color:#1a1a1a;transform:scaleX(0.7800)'>D331</div><div class='t' style='left:497.00px;top:490.28px;font-size:12.5px;color:#1a1a1a;transform:scaleX(0.7870)'>FMSI:</div><div class='t' style='left:392.20px;top:506.00px;font-size:12.5px;color:#1a1a1a;transform:scaleX(0.7870)'>FMSI:</div><div class='t' style='left:424.00px;top:506.00px;font-size:12.5px;color:#1a1a1a;transform:scaleX(0.7800)'>D463</div><div class='t' style='left:497.00px;top:506.00px;font-size:12.5px;color:#1a1a1a;transform:scaleX(0.7870)'>FMSI:</div><div class='t' style='left:392.20px;top:521.72px;font-size:12.5px;color:#1a1a1a;transform:scaleX(0.7870)'>FMSI:</div><div class='t' style='left:424.00px;top:521.72px;font-size:12.5px;color:#1a1a1a;transform:scaleX(0.7800)'>D585</div><div class='t' style='left:497.00px;top:521.72px;font-size:12.5px;color:#1a1a1a;transform:scaleX(0.7870)'>FMSI:</div><div class='t' style='left:392.20px;top:537.44px;font-size:12.5px;color:#1a1a1a;transform:scaleX(0.7870)'>FMSI:</div><div class='t' style='left:497.00px;top:537.44px;font-size:12.5px;color:#1a1a1a;transform:scaleX(0.7870)'>FMSI:</div><div class='t' style='left:604.25px;top:443.12px;font-size:12.5px;color:#1a1a1a;transform:scaleX(0.7870)'>Hardware Kit #:</div><div class='t' style='left:96.75px;top:554.40px;font-size:14.3px;color:#1a1a1a;transform:scaleX(0.8438)'>Note 1:</div><div class='t' style='left:145.60px;top:554.77px;font-size:14.8px;color:#d63a3a;transform:scaleX(0.8292)'>2 Pads with a wear sensor</div><div class='t' style='left:96.75px;top:573.10px;font-size:14.3px;color:#1a1a1a;transform:scaleX(0.8438)'>Note 2:</div>
</body></html>
